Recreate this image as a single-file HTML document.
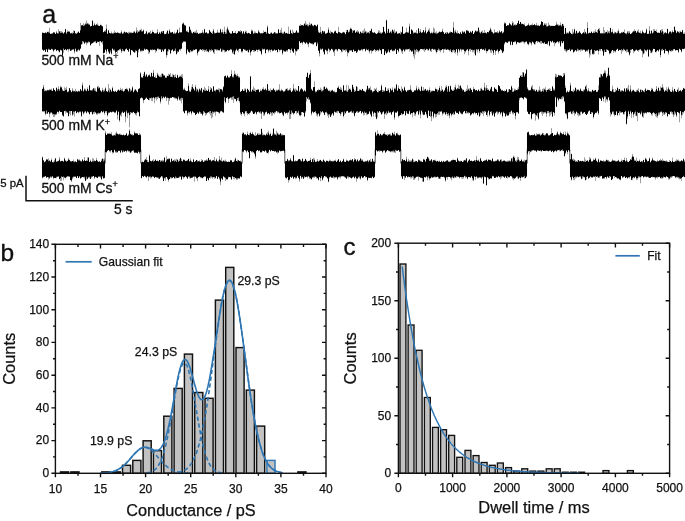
<!DOCTYPE html>
<html lang="en">
<head>
<meta charset="utf-8">
<title>Figure</title>
<style>
html,body{margin:0;padding:0;background:#fff;}
body{width:685px;height:521px;overflow:hidden;}
svg{display:block;}
</style>
</head>
<body>
<svg width="685" height="521" viewBox="0 0 685 521">
<rect width="685" height="521" fill="#fff"/>
<g id="traces">
<path d="M42.5 32.7V49.6M43.5 32.6V50.7M44.5 32.9V50.4M45.5 32.1V51.9M46.5 32.7V49.7M47.5 31.6V52.3M48.5 31.6V49.9M49.5 27.7V50M50.5 33.7V50M51.5 33.1V49.3M52.5 32.9V49.7M53.5 32.2V52.2M54.5 32.1V50.3M55.5 33.7V49.6M56.5 31.1V51.3M57.5 33.1V49.9M58.5 29.1V51.6M59.5 31.1V52.6M60.5 31.1V50.4M61.5 31.1V50.5M62.5 31.9V56.3M63.5 33.3V53.2M64.5 32.1V50.1M65.5 28.8V49.6M66.5 32.7V50.4M67.5 30.3V49.6M68.5 30.9V51.6M69.5 30.9V49.5M70.5 33.3V50.8M71.5 32.7V51.1M72.5 32.4V49.6M73.5 30.2V49.8M74.5 30.8V53.4M75.5 33.2V49.5M76.5 32.8V52.1M77.5 32.3V51.8M78.5 31.7V50.2M79.5 32.8V50.7M80.5 22.9V48.9M81.5 25.3V44.6M82.5 24.8V44.2M83.5 23.3V42.5M84.5 24.5V43.6M85.5 22.8V43.1M86.5 20.5V45.2M87.5 23.4V43.3M88.5 23.3V42.7M89.5 24.5V42.3M90.5 26.4V46M91.5 25.8V44M92.5 19.9V43.4M93.5 25.6V42.6M94.5 22.8V42.2M95.5 25V42.7M96.5 24.3V43.3M97.5 23.3V42.3M98.5 24.8V41.9M99.5 25.8V46.2M100.5 24.5V41.7M101.5 24.9V42.4M102.5 26V44.4M103.5 32.1V54.4M104.5 30.8V53M105.5 30V49.9M106.5 24.5V54.2M107.5 33.3V49.4M108.5 29.9V52.5M109.5 32.6V54.1M110.5 33.6V52.2M111.5 31.5V54.5M112.5 33.5V48.7M113.5 32.3V50.6M114.5 30.5V51M115.5 32.3V52.8M116.5 32.7V52M117.5 31.9V53.6M118.5 32.7V50.6M119.5 32.9V50.3M120.5 32.6V50M121.5 30.4V52.9M122.5 33V51.2M123.5 32.3V51.2M124.5 31.6V52M125.5 32.5V49.5M126.5 32.1V48.6M127.5 32.6V50.2M128.5 31.8V51.6M129.5 31.7V49M130.5 32.4V55.5M131.5 31.9V50.1M132.5 32.7V51.2M133.5 31.4V52M134.5 31.3V52.4M135.5 32.8V52.4M136.5 27.5V51.1M137.5 30V57.5M138.5 31.7V52.4M139.5 30V49.1M140.5 29.5V51.9M141.5 28.8V51.4M142.5 31.1V51.3M143.5 29.5V51.1M144.5 33.9V49.6M145.5 32.9V50M146.5 31V49.1M147.5 33.5V50M148.5 32.5V53.9M149.5 32V53.6M150.5 30.7V50M151.5 33.4V50.5M152.5 30.2V50.4M153.5 32V50M154.5 33.4V49.6M155.5 33V52.7M156.5 32.7V51.5M157.5 29.1V49.1M158.5 33.9V49.8M159.5 31.9V49.9M160.5 32.6V49.5M161.5 31.1V52.1M162.5 31.1V50.3M163.5 30.8V52.3M164.5 33.6V50.2M165.5 34V49.1M166.5 31.9V57.7M167.5 30.6V55.3M168.5 33.7V51.4M169.5 29.1V49.8M170.5 31.9V53.9M171.5 32.2V50.5M172.5 31.9V49.6M173.5 33.5V52.1M174.5 31.6V50.8M175.5 33.4V51.2M176.5 31.8V54.6M177.5 29.3V53M178.5 32.9V52.1M179.5 27.6V49.7M180.5 32.2V51.1M181.5 32V48.8M182.5 23.2V43.4M183.5 22.4V41.9M184.5 24.6V42M185.5 25.5V42.3M186.5 30.8V54.7M187.5 30.3V50.3M188.5 32.4V51.7M189.5 26.2V53.1M190.5 29.1V51.9M191.5 31.3V52.2M192.5 33.2V51.7M193.5 31.9V50.6M194.5 31.5V50.1M195.5 31.4V49.9M196.5 29.8V49.7M197.5 32.3V55.5M198.5 33.8V51.6M199.5 33.1V51.2M200.5 32.7V49.7M201.5 32.8V50.1M202.5 30V51.2M203.5 32.3V50.5M204.5 29.1V52.1M205.5 32.4V51.3M206.5 32.1V51.8M207.5 33V51.7M208.5 33.6V52.6M209.5 29.9V50.9M210.5 31.4V51.7M211.5 32.7V51.1M212.5 31.4V50.7M213.5 28.8V53.3M214.5 32.2V53.9M215.5 33.2V50.1M216.5 32.5V50.7M217.5 29.8V50.5M218.5 32.7V50.5M219.5 32.7V50.8M220.5 28.9V48.8M221.5 31.9V52.1M222.5 29.5V51.7M223.5 32.3V50.4M224.5 26.7V52.4M225.5 32V51.7M226.5 29.5V51.3M227.5 26.5V50M228.5 29.7V51M229.5 32.1V50.5M230.5 33.1V50.2M231.5 33.5V49.6M232.5 31.2V53.6M233.5 33.1V54M234.5 32.7V54.8M235.5 30.9V51.7M236.5 33.3V49.9M237.5 32.6V50.8M238.5 31.1V52.2M239.5 31.3V49M240.5 30V48.9M241.5 31.1V52.3M242.5 33.5V52.6M243.5 31.3V49.2M244.5 33.1V50.1M245.5 30.6V51.1M246.5 31V50.7M247.5 32.9V51.5M248.5 32.6V52.9M249.5 33.2V50.3M250.5 34V55.5M251.5 29.5V52M252.5 29.9V50.1M253.5 33.4V51.9M254.5 31.3V52M255.5 31.7V51.3M256.5 33V50M257.5 33.1V52.1M258.5 29.8V49.6M259.5 31.7V50.8M260.5 33.5V51.5M261.5 33.1V55.1M262.5 32.9V49.9M263.5 30.4V49.5M264.5 31.9V49.5M265.5 31.4V53.6M266.5 32.4V50M267.5 25.4V50.1M268.5 33.5V52.5M269.5 34V50.7M270.5 32.6V52.4M271.5 32.5V49.6M272.5 33.4V51.5M273.5 32.9V50.8M274.5 32.2V49.9M275.5 32.2V50.7M276.5 33.4V50M277.5 33.4V52.5M278.5 29.2V49.8M279.5 32.8V51.8M280.5 29.9V50.5M281.5 27.8V49.8M282.5 32.5V54.6M283.5 32.6V51.4M284.5 31.7V51.6M285.5 32.9V51.9M286.5 32.7V51.3M287.5 33.6V51.8M288.5 26.7V49.2M289.5 33.9V49.3M290.5 29.5V52.9M291.5 33V49.7M292.5 29.6V51.9M293.5 31.5V53M294.5 32.8V49M295.5 31.9V55.4M296.5 30.2V51.3M297.5 31.9V50.8M298.5 32.8V49.7M299.5 25.2V41.6M300.5 24.1V43.3M301.5 25.3V42.9M302.5 24.9V44.7M303.5 24.8V42.1M304.5 23.7V43M305.5 21.1V43.9M306.5 23.5V42.6M307.5 24V44.5M308.5 24.8V47.2M309.5 22.4V42.4M310.5 23.7V43.8M311.5 23.4V43.7M312.5 25V44.6M313.5 25.5V44.4M314.5 24.6V42.4M315.5 25.1V42.8M316.5 26V46.4M317.5 24.1V44.3M318.5 30.4V50.8M319.5 32.4V56.4M320.5 26.9V49.9M321.5 32.3V49.6M322.5 30.6V49M323.5 30.9V52.4M324.5 31.3V54.6M325.5 33.3V50.1M326.5 33.1V51.4M327.5 32.3V54.2M328.5 27.6V49.4M329.5 32.4V52.3M330.5 30.7V50.9M331.5 31.7V48.9M332.5 32.5V49.9M333.5 33.2V52.5M334.5 31.3V56M335.5 30.4V50.1M336.5 32.8V50.3M337.5 33.3V51.6M338.5 26.9V49M339.5 32V49.6M340.5 32.4V50M341.5 33.1V52.2M342.5 32.1V52.3M343.5 31.8V50.7M344.5 32.2V50.4M345.5 34.2V51.8M346.5 30V51.1M347.5 29.7V56.5M348.5 31.7V53.3M349.5 29.6V51.6M350.5 27.5V50.6M351.5 28.4V51.1M352.5 30V52M353.5 30.6V49.8M354.5 29.9V51.4M355.5 32.4V51M356.5 31.4V52.7M357.5 30.1V52.2M358.5 30.8V49.9M359.5 33.2V51M360.5 31.1V50.6M361.5 32.5V50M362.5 30.7V51.2M363.5 30.3V49.6M364.5 28.3V48.8M365.5 30.8V51.8M366.5 31.4V49.9M367.5 31.8V50.2M368.5 32.4V51.3M369.5 30.7V53.5M370.5 30.7V50.5M371.5 28.4V53.6M372.5 32V51.3M373.5 32.5V50.9M374.5 31.9V50.1M375.5 33.1V52M376.5 33.7V50.5M377.5 32.7V50.4M378.5 30.4V51.6M379.5 30.6V50.1M380.5 31.8V50.8M381.5 32.6V54.2M382.5 32V49.4M383.5 26.7V49.2M384.5 31.5V55.1M385.5 33V52.3M386.5 19.7V54M387.5 31.4V52.9M388.5 28.7V51.3M389.5 32.7V52.4M390.5 30.7V50.4M391.5 31.4V50.2M392.5 29.3V51.4M393.5 30.4V51.6M394.5 29.3V50.6M395.5 31.6V49.3M396.5 31.3V54.1M397.5 33.3V49.8M398.5 33.3V52.4M399.5 32.9V48.7M400.5 31.4V49.8M401.5 32.3V52.6M402.5 26.4V54M403.5 33.4V49.8M404.5 33.6V52M405.5 32.5V50.6M406.5 27.7V49.4M407.5 32.4V49.6M408.5 31.6V49.3M409.5 23.5V51.8M410.5 34V50.4M411.5 29.4V51.4M412.5 30.2V51.8M413.5 32.4V56.5M414.5 32.7V58.8M415.5 32V54.5M416.5 30V51.8M417.5 33.1V51.7M418.5 28.2V52.6M419.5 31.2V51.2M420.5 29V49.4M421.5 32.4V49.2M422.5 31.8V49.4M423.5 30V50.5M424.5 32.4V52M425.5 27.1V50.4M426.5 33.2V49.3M427.5 31.5V50.5M428.5 29.6V50.4M429.5 28.2V49M430.5 33.2V51.5M431.5 31.7V52M432.5 32.5V48.8M433.5 27.4V49.8M434.5 28.7V49.5M435.5 32.1V51.4M436.5 31.2V53.4M437.5 33.1V51.9M438.5 32.4V50.2M439.5 31.7V51.1M440.5 31.8V52.4M441.5 31.8V50.3M442.5 28.7V49.4M443.5 32.2V52.9M444.5 33.9V49.3M445.5 32.2V50M446.5 31.9V49.9M447.5 32.6V49.4M448.5 33V50.1M449.5 32.4V51.5M450.5 31.3V51M451.5 32V52.4M452.5 32.8V52.6M453.5 22V51.3M454.5 30.7V52.9M455.5 29.8V53.6M456.5 32.4V49.5M457.5 30.5V55.5M458.5 33.1V49.6M459.5 33.7V52.3M460.5 31.8V49.8M461.5 33.7V51.7M462.5 31.2V49.9M463.5 31.8V49.5M464.5 31V54.2M465.5 33.1V52.5M466.5 30.2V50.7M467.5 29.9V49.2M468.5 30.7V55.3M469.5 32.8V50.3M470.5 31.1V51.7M471.5 32.3V50M472.5 30.6V52.3M473.5 34V51.8M474.5 32.5V53.6M475.5 30.7V55.4M476.5 31.6V50.5M477.5 30.8V52.4M478.5 27.7V50M479.5 30.5V52.8M480.5 32.4V49.3M481.5 31.1V48.8M482.5 30.5V50M483.5 32.5V49.4M484.5 30V50.8M485.5 32.5V50.4M486.5 33.5V53.2M487.5 31.9V51.5M488.5 31.9V50.3M489.5 29.9V49.3M490.5 27.5V52.6M491.5 29.8V53.1M492.5 31.8V51M493.5 33.2V55M494.5 29.4V49.9M495.5 32.2V55M496.5 32.1V50.9M497.5 31V50.5M498.5 32.2V53.7M499.5 30V51M500.5 32V50.2M501.5 31.2V50.6M502.5 32.6V52.9M503.5 31.5V52.3M504.5 22.2V44.6M505.5 22.8V42.3M506.5 25.8V42.7M507.5 25V43.1M508.5 25V41.6M509.5 22.8V42.1M510.5 24.3V45.3M511.5 24.9V41.6M512.5 21.2V45.3M513.5 22.4V42.1M514.5 24.4V42.4M515.5 24.2V41.7M516.5 24.8V44.6M517.5 23.1V42.3M518.5 20.2V42.6M519.5 23.9V42.7M520.5 21.9V42.7M521.5 23.5V42.7M522.5 23.6V41.6M523.5 24.1V42.6M524.5 23.4V43.9M525.5 25.9V42.4M526.5 25.7V41.9M527.5 24.9V44.3M528.5 23.1V45.4M529.5 24.8V43.3M530.5 24.9V43.4M531.5 24.5V45.4M532.5 23.4V41.9M533.5 25.1V43.3M534.5 24.1V44.8M535.5 25V44.3M536.5 22.9V41.2M537.5 24.9V43.1M538.5 25.4V41.6M539.5 25.9V42.4M540.5 24.5V43.6M541.5 21.3V43.8M542.5 22V42.8M543.5 25.1V44.1M544.5 23V43.4M545.5 23.5V44M546.5 23.4V44M547.5 26.1V45M548.5 22.5V41.3M549.5 24.7V46.4M550.5 25.7V41.1M551.5 25.5V42.7M552.5 25.8V41.2M553.5 25.7V42.6M554.5 25.8V46.1M555.5 25.4V43.8M556.5 21.9V42.9M557.5 24.3V41.7M558.5 24.3V43.7M559.5 25.3V42.7M560.5 22.5V47M561.5 25.3V42.5M562.5 23.7V43.4M563.5 24.3V41.3M564.5 33.7V50.8M565.5 27.9V51.4M566.5 32.5V52.6M567.5 32.3V51.1M568.5 32.6V50.1M569.5 31V49.9M570.5 32.5V51.4M571.5 33.7V49.6M572.5 29.2V49.4M573.5 31.8V53.2M574.5 28.6V52M575.5 32.7V50.3M576.5 30.5V52.1M577.5 32.6V50.9M578.5 32.2V51.4M579.5 31.1V50.4M580.5 32.5V51.6M581.5 34V50.3M582.5 33.1V51M583.5 32V49.6M584.5 29V50.2M585.5 31.7V51.8M586.5 33.1V51.2M587.5 22.1V51.9M588.5 33V50.4M589.5 32.3V57.7M590.5 32.9V55.3M591.5 31.7V50.1M592.5 33.1V54.6M593.5 31.5V54.8M594.5 31.2V54M595.5 29.4V51.1M596.5 31.9V50.7M597.5 30V50.7M598.5 28.8V54.5M599.5 28V50.8M600.5 33V51.2M601.5 32.8V49.1M602.5 33.1V51.6M603.5 27.1V55.7M604.5 30V52.2M605.5 31.9V52.1M606.5 31.8V52M607.5 30.1V49.8M608.5 31.1V50.5M609.5 30.8V54.5M610.5 27.8V53.2M611.5 31.8V52.4M612.5 29.3V50M613.5 33V52.9M614.5 31.6V51.6M615.5 32V52.5M616.5 32.6V49.8M617.5 31.1V48.8M618.5 29.3V51M619.5 33V50.2M620.5 33.1V50.5M621.5 32V53.9M622.5 31.9V51.5M623.5 31.8V50.5M624.5 29.4V50.3M625.5 33V51.2M626.5 32.9V52.4M627.5 30.9V52M628.5 31.1V52.6M629.5 31.1V55.6M630.5 34.1V52.9M631.5 33.5V49.9M632.5 31.6V49.2M633.5 30.8V53.1M634.5 29.1V51.6M635.5 30.8V50.4M636.5 32.4V49.7M637.5 30.5V50.8M638.5 29.4V51.8M639.5 32.3V50.1M640.5 30.8V49.7M641.5 33.5V50.8M642.5 30.1V57.3M643.5 32.1V54.3M644.5 33V53.2M645.5 32.1V51M646.5 28.5V51.9M647.5 33.7V49.5M648.5 33.4V56.4M649.5 26.1V50.1M650.5 32.9V53.1M651.5 30.7V53.2M652.5 32.8V52.3M653.5 29.1V48.9M654.5 29V49.1M655.5 30.8V52.3M656.5 29.6V52.4M657.5 32.4V50.5M658.5 32V51.9M659.5 32.8V49.3M660.5 30.1V57.5M661.5 29.3V51.1M662.5 29.1V50.8M663.5 31.6V50.1M664.5 32.5V54.1M665.5 32.4V51M666.5 33.2V51M667.5 28.7V51.3M668.5 33.3V54.6M669.5 31.5V50.5M670.5 31V51.5M671.5 32.1V51.8M672.5 30.2V51.3M673.5 32.1V50.3M674.5 26.1V49.4M675.5 30.4V51M676.5 32.5V50.2M677.5 31.2V50.3M678.5 31.5V52.9M679.5 31.3V49.2M680.5 30.7V50M681.5 32V52.3M682.5 30.1V49.3M683.5 32.8V49.3M684.5 32.4V48.6M685.5 33.2V52.1" stroke="#000" stroke-opacity=".38" stroke-width="1" fill="none"/><path d="M42.5 32.7V49.6M43.5 33V50.6M44.5 33.2V49.7M45.5 32.7V51.7M46.5 33.3V49.1M47.5 32.1V52.1M48.5 32.6V48.8M49.5 32.8V49.3M50.5 33.9V49.9M51.5 34.1V48.8M52.5 33.8V49.2M53.5 32.6V50.7M54.5 32.8V49.5M55.5 34V49.1M56.5 32.6V50.7M57.5 33.5V49.9M58.5 33.5V50.5M59.5 31.5V52M60.5 32.9V49.8M61.5 32.7V50.2M62.5 32.7V55.3M63.5 33.8V48.4M64.5 32.6V50M65.5 29.2V49M66.5 33.8V50.3M67.5 32V49M68.5 31.8V49.3M69.5 31.9V48.7M70.5 33.4V50.7M71.5 33.2V49.8M72.5 33.8V49.5M73.5 33V48.9M74.5 31V51.5M75.5 33.5V48.5M76.5 34.1V51.3M77.5 32.9V50.2M78.5 31.8V49.2M79.5 33.1V50.3M80.5 30.3V48.6M81.5 25.5V44.3M82.5 25.3V41.1M83.5 26.1V41.6M84.5 25.6V43.4M85.5 24.3V41.8M86.5 24.3V42.4M87.5 23.6V42.4M88.5 24.4V41.5M89.5 24.7V41.7M90.5 26.6V45M91.5 26V43.4M92.5 21V42.9M93.5 25.8V42.2M94.5 24.5V41.4M95.5 25.4V41.1M96.5 24.5V42.9M97.5 25.2V41.6M98.5 26.1V41.9M99.5 26V41.2M100.5 24.9V41M101.5 25.7V42.3M102.5 26.5V41.3M103.5 32.3V53.1M104.5 31.6V52.4M105.5 31.7V49.5M106.5 28.7V51.4M107.5 34V49M108.5 30.5V51.4M109.5 33V53.4M110.5 33.6V50.6M111.5 33.3V53.6M112.5 33.5V48.4M113.5 33.8V49.7M114.5 32.9V49.5M115.5 32.7V52.5M116.5 33.1V51.8M117.5 32.7V50.5M118.5 33.1V49.9M119.5 33.5V49M120.5 33.4V48.7M121.5 32.3V51.2M122.5 33.9V49.1M123.5 33.4V50.5M124.5 31.7V51M125.5 32.7V49.3M126.5 32.2V48.6M127.5 32.9V50M128.5 33.8V51.6M129.5 33.3V48.7M130.5 32.8V54.7M131.5 33.3V49.9M132.5 33.1V50.3M133.5 32.7V51.8M134.5 31.8V52.4M135.5 33.3V50.2M136.5 31.4V50.8M137.5 32.9V57.1M138.5 31.7V49.8M139.5 31.4V48.8M140.5 30.3V50.7M141.5 31.5V50.4M142.5 31.5V50.5M143.5 30.4V50.6M144.5 34V48.5M145.5 33.7V49.6M146.5 31.6V49M147.5 34.2V49.5M148.5 32.7V50.5M149.5 32.7V52.1M150.5 33.9V49.6M151.5 33.6V49.7M152.5 32.1V49.3M153.5 32.2V49.7M154.5 33.4V49.6M155.5 33.6V50M156.5 33.5V50.7M157.5 32.3V48.6M158.5 33.9V48.6M159.5 32.8V49.1M160.5 33.9V49.2M161.5 31.7V52M162.5 32.7V49.5M163.5 31V51.1M164.5 34.2V48.9M165.5 34.1V48.7M166.5 33.4V54.9M167.5 30.7V51.2M168.5 33.8V48.9M169.5 31.1V49.6M170.5 32.7V53.2M171.5 32.7V50.3M172.5 32V49.3M173.5 33.7V51.1M174.5 33.4V50.4M175.5 33.8V48.4M176.5 32.8V54.1M177.5 29.9V51.3M178.5 33.2V51.5M179.5 32.3V49.3M180.5 32.4V49.1M181.5 32.6V48.5M182.5 24.2V42.4M183.5 23.4V41.6M184.5 25.2V41.2M185.5 25.7V41.5M186.5 31.4V53.6M187.5 31.9V49.2M188.5 32.5V51.4M189.5 27V52.2M190.5 30.3V49.9M191.5 32.8V50.9M192.5 33.4V50.8M193.5 32.1V49.5M194.5 33.1V50M195.5 32.8V49M196.5 33.2V49M197.5 33V53.3M198.5 34V51.6M199.5 33.5V49.8M200.5 33.5V48.9M201.5 33.1V50M202.5 32.5V48.9M203.5 33.6V49.6M204.5 29.2V49.8M205.5 33V50M206.5 32.4V49.2M207.5 33.7V50.9M208.5 33.6V51.8M209.5 30.3V49.4M210.5 32V50.1M211.5 33V49.3M212.5 33.9V50.1M213.5 30.4V51.9M214.5 33.6V49.3M215.5 33.3V49.1M216.5 33V49.6M217.5 32.4V49.5M218.5 32.8V50.1M219.5 32.8V49.9M220.5 29.5V48.5M221.5 32.7V51.5M222.5 32.3V49.4M223.5 33.9V49.7M224.5 31.8V50M225.5 34V51.6M226.5 33.4V51.2M227.5 28.6V49.9M228.5 30.5V50.4M229.5 32.8V50.1M230.5 33.7V49.1M231.5 33.7V49.6M232.5 31.2V52.2M233.5 33.2V50.5M234.5 32.9V54.3M235.5 33.1V50.6M236.5 33.9V48.7M237.5 33V50.4M238.5 31.3V49.6M239.5 31.5V48.7M240.5 32.3V48.7M241.5 31.3V51.6M242.5 33.8V51.1M243.5 31.6V49M244.5 34.1V49.5M245.5 32V49.7M246.5 33.1V50.7M247.5 33.7V50.1M248.5 32.9V52.1M249.5 33.4V49.4M250.5 34V52.5M251.5 31.3V50.9M252.5 31.2V50.1M253.5 33.7V49.9M254.5 33.2V50.5M255.5 33.3V51M256.5 33.1V49.5M257.5 33.8V50.1M258.5 31.5V49.6M259.5 32.7V49.4M260.5 33.6V51.1M261.5 33.3V53.8M262.5 33.5V48.6M263.5 33V49.3M264.5 32V48.8M265.5 32V52.9M266.5 33.7V49.4M267.5 27.2V49.1M268.5 33.6V50.6M269.5 34V49.4M270.5 33.7V50.1M271.5 32.8V49.6M272.5 34V50.6M273.5 33.5V50.6M274.5 32.3V49.5M275.5 33.4V50.3M276.5 33.5V50M277.5 33.6V52M278.5 29.6V49.1M279.5 33.1V50.1M280.5 32.8V49.8M281.5 32.7V49.6M282.5 33.7V53.3M283.5 33.7V50.2M284.5 31.7V51.3M285.5 33.6V51.4M286.5 33.1V50.2M287.5 33.7V50.2M288.5 33.7V49.1M289.5 33.9V49.2M290.5 30.6V49.9M291.5 33.2V48.6M292.5 34.1V51.1M293.5 32.8V52.6M294.5 32.9V48.8M295.5 32.8V50.4M296.5 30.8V51.2M297.5 32.9V49.3M298.5 32.8V49.1M299.5 25.9V41.1M300.5 26.1V43M301.5 25.3V42.2M302.5 25.3V42.7M303.5 26V41.5M304.5 23.7V42.3M305.5 25.2V43.6M306.5 25.1V42.3M307.5 25.8V43.2M308.5 26.6V43.9M309.5 25V42.4M310.5 25.6V42.9M311.5 23.9V43.6M312.5 25.7V43.5M313.5 26.2V44.2M314.5 25V42.4M315.5 25.6V42M316.5 26.4V46M317.5 24.9V42.4M318.5 32.3V50.6M319.5 33V53.2M320.5 32.2V48.4M321.5 33.9V49.5M322.5 31V48.4M323.5 32.5V51.6M324.5 31.4V54.3M325.5 33.9V49.6M326.5 33.4V50.5M327.5 33.1V50.8M328.5 29.8V48.5M329.5 32.9V49.5M330.5 33.8V50.3M331.5 32.2V48.7M332.5 32.6V49.3M333.5 33.5V51.5M334.5 31.8V50.5M335.5 31.2V48.9M336.5 33.1V49M337.5 33.7V50.4M338.5 32V48.7M339.5 32.4V49.1M340.5 33.1V49.7M341.5 33.6V51.2M342.5 33.1V49.3M343.5 32.3V49.5M344.5 32.8V50M345.5 34.3V49.4M346.5 32V49.6M347.5 29.9V52.2M348.5 32.4V52.5M349.5 31.7V50.3M350.5 28.8V50.2M351.5 29.3V50.1M352.5 32.8V51.9M353.5 30.7V49.5M354.5 30.4V51.3M355.5 33V51M356.5 31.7V52.7M357.5 32.6V51.2M358.5 32.3V49.5M359.5 34V50.3M360.5 32.1V50.3M361.5 33.2V49.1M362.5 33V49.4M363.5 33.6V48.9M364.5 32.5V48.7M365.5 31.8V50.7M366.5 33.6V48.8M367.5 33.1V50M368.5 32.5V49.2M369.5 33.4V51.3M370.5 30.9V50.3M371.5 29.2V50.4M372.5 32.5V51M373.5 32.9V50M374.5 32.6V48.9M375.5 33.5V49.9M376.5 33.9V50.4M377.5 33.5V49.8M378.5 32.5V50.2M379.5 33.1V48.8M380.5 33.6V50.1M381.5 33.7V53.7M382.5 32.8V49M383.5 26.9V49.1M384.5 31.8V55M385.5 33.7V50.8M386.5 20.4V52.9M387.5 32.9V51.7M388.5 29.1V49.4M389.5 33.1V52.2M390.5 32.1V50.1M391.5 33.3V49.2M392.5 29.9V50.7M393.5 31.8V50.3M394.5 33.4V50.5M395.5 33V48.8M396.5 31.8V53.9M397.5 34V49.7M398.5 33.5V51.2M399.5 33.3V48.6M400.5 34.2V48.8M401.5 32.4V50.6M402.5 26.7V51M403.5 34.1V49.2M404.5 33.8V50.8M405.5 32.7V49.2M406.5 32.3V49.3M407.5 32.4V49.2M408.5 33.1V48.9M409.5 26.6V48.7M410.5 34V49.9M411.5 29.6V51.4M412.5 30.7V50.7M413.5 33.4V54.1M414.5 32.8V49.6M415.5 33.1V50.3M416.5 33.2V49.1M417.5 33.7V49.9M418.5 28.5V51.2M419.5 33V50.2M420.5 31.8V49.1M421.5 33V49M422.5 32.4V49.3M423.5 30.2V48.9M424.5 32.6V48.8M425.5 30.4V50M426.5 33.4V48.8M427.5 31.9V49.1M428.5 30.6V50.3M429.5 31.7V48.5M430.5 33.4V50.6M431.5 33.1V48.9M432.5 33.4V48.7M433.5 32.4V49.5M434.5 33V49.3M435.5 33.5V49.5M436.5 33.8V51.9M437.5 33.4V49.9M438.5 32.8V48.6M439.5 31.8V49.4M440.5 32.3V50.3M441.5 31.9V50.1M442.5 30.9V48.9M443.5 32.3V49.3M444.5 33.9V49.2M445.5 33V48.8M446.5 33.9V49.7M447.5 32.6V49.2M448.5 34V49.6M449.5 32.8V49.9M450.5 32.6V49.2M451.5 32V52M452.5 32.8V50M453.5 27.7V49.6M454.5 33.2V49.9M455.5 31.7V51.8M456.5 33.2V48.9M457.5 33.6V52.5M458.5 33.2V48.9M459.5 33.9V50.5M460.5 32.6V48.8M461.5 34.1V49.6M462.5 31.6V49.2M463.5 32.8V49.4M464.5 31.9V51.1M465.5 33.8V51.3M466.5 30.5V49.8M467.5 31V49.2M468.5 31.4V51M469.5 32.9V48.9M470.5 31.7V48.7M471.5 32.8V49.7M472.5 30.9V49.7M473.5 34V50M474.5 32.6V49.8M475.5 30.7V55.2M476.5 31.6V49.1M477.5 31.5V49.4M478.5 27.8V49.1M479.5 32.6V51.1M480.5 33.6V49.1M481.5 32V48.8M482.5 33.2V49.6M483.5 33V49.2M484.5 32.9V50.2M485.5 32.8V48.5M486.5 33.6V50.9M487.5 31.9V51M488.5 32.5V49.4M489.5 31.1V49.2M490.5 29.2V50.3M491.5 31.7V49.5M492.5 32.6V50.3M493.5 33.8V52.7M494.5 32.8V49.9M495.5 32.5V51.3M496.5 32.4V50.5M497.5 32.7V49.2M498.5 33.3V51.7M499.5 31.5V50.8M500.5 32.6V49M501.5 31.2V50.2M502.5 33.4V52.8M503.5 32.4V51.1M504.5 23.4V43.2M505.5 23.4V41.8M506.5 26.1V42.2M507.5 25.3V42.8M508.5 25.5V41.5M509.5 23.4V41M510.5 24.6V44.8M511.5 25.8V41.6M512.5 23.3V44.8M513.5 25.7V42M514.5 25.1V41.4M515.5 25.6V41.3M516.5 24.9V43.7M517.5 23.3V41.9M518.5 20.9V42.2M519.5 24V42.7M520.5 22V42.2M521.5 24.3V41.6M522.5 24.1V41.6M523.5 24.6V41.6M524.5 25.2V42.2M525.5 26.6V41.7M526.5 26.1V41.3M527.5 25.4V43.6M528.5 24.7V44.2M529.5 26V42M530.5 25.2V42.2M531.5 25.3V43.6M532.5 25.3V41.6M533.5 25.1V42.6M534.5 24.4V44M535.5 25.5V42M536.5 25.3V40.9M537.5 26V41.2M538.5 25.6V41.5M539.5 25.9V42.2M540.5 24.7V41M541.5 21.6V41.1M542.5 22.1V42.7M543.5 25.8V43M544.5 24.6V42M545.5 25.1V43.9M546.5 26.5V43.8M547.5 26.6V43.6M548.5 25.8V41.2M549.5 25.4V45.4M550.5 26.3V41.1M551.5 26.1V41.9M552.5 26V40.8M553.5 26.1V42.6M554.5 26.1V42M555.5 25.5V43M556.5 24.4V41.9M557.5 24.9V41.2M558.5 26V42.1M559.5 25.4V41.1M560.5 25.2V45.8M561.5 26.5V41M562.5 23.9V43M563.5 25.9V41.3M564.5 33.9V49.1M565.5 28.1V49.2M566.5 33.7V50.8M567.5 33.2V49.8M568.5 33.5V49.9M569.5 31.5V48.7M570.5 33.1V50.9M571.5 34V49.5M572.5 34.2V49.4M573.5 33.4V52M574.5 29.5V51.1M575.5 33.7V49.9M576.5 31V50.8M577.5 33.6V48.8M578.5 33V49.6M579.5 31.6V50M580.5 33V49.4M581.5 34.2V49.2M582.5 33.4V49.7M583.5 32.5V49.5M584.5 33.4V49.7M585.5 32.3V51.5M586.5 33.9V50.5M587.5 27.9V50.2M588.5 33.8V49.3M589.5 33V53.5M590.5 33V49.9M591.5 31.7V48.9M592.5 33.2V53.8M593.5 32.8V53.6M594.5 32.9V49.9M595.5 32.3V50.7M596.5 32.3V50.4M597.5 32.9V50.1M598.5 29.3V51M599.5 30.7V49.2M600.5 33.5V49.2M601.5 33.4V49M602.5 33.4V50.4M603.5 33.5V55.6M604.5 33.5V49.8M605.5 32.8V52.1M606.5 31.9V49.3M607.5 33.5V49.7M608.5 32.4V50.5M609.5 33.3V53.2M610.5 28V53.2M611.5 32.6V50.8M612.5 31.9V50M613.5 33.7V50.8M614.5 33.6V50.8M615.5 32.6V51.3M616.5 33.5V49.8M617.5 32.9V48.7M618.5 31.2V50.8M619.5 33.5V49.7M620.5 33.6V49.9M621.5 32.7V49.2M622.5 33.1V50.1M623.5 32.1V48.8M624.5 33V49.6M625.5 33.7V50.8M626.5 34.2V49.6M627.5 32.5V49.5M628.5 33.5V51.8M629.5 32.8V54.6M630.5 34.1V49.7M631.5 33.5V49.6M632.5 32.5V49M633.5 31.5V50.3M634.5 31.4V51.3M635.5 31.1V50.3M636.5 32.9V49.4M637.5 31.6V50.6M638.5 32.5V49.9M639.5 33.1V49.5M640.5 33.3V48.9M641.5 33.6V50.4M642.5 31.5V51.3M643.5 32.8V53.6M644.5 33.4V49.2M645.5 33V50M646.5 29.8V50.5M647.5 33.9V49.4M648.5 33.9V56.4M649.5 30.7V49.6M650.5 34V50.4M651.5 30.8V52.6M652.5 33.4V50.6M653.5 32.4V48.7M654.5 31V49.1M655.5 31V51.9M656.5 31.9V50.9M657.5 32.9V50.1M658.5 33.1V50.7M659.5 33.1V49.2M660.5 30.5V55.1M661.5 32.5V49.6M662.5 31.2V48.7M663.5 34.3V49.9M664.5 33.2V53M665.5 32.5V49M666.5 33.2V50.7M667.5 29.1V50.9M668.5 33.8V52.4M669.5 32.2V50.3M670.5 31.7V51.1M671.5 33.6V50.3M672.5 31.7V50.5M673.5 32.3V49.1M674.5 26.9V48.9M675.5 30.6V50.2M676.5 32.9V49.9M677.5 31.5V50.1M678.5 32.3V51.8M679.5 33.3V48.8M680.5 32V49.8M681.5 32.2V51.6M682.5 30.3V48.8M683.5 33.9V49M684.5 33.9V48.5M685.5 33.5V50.7" stroke="#000" stroke-width="1.05" fill="none"/>
<path d="M42.5 88.7V111.4M43.5 84.8V112M44.5 88.8V112.4M45.5 90.5V115.2M46.5 90.1V113.9M47.5 89.8V113.6M48.5 89.9V112.2M49.5 88.9V117.2M50.5 89.1V113.6M51.5 88.7V113.1M52.5 90.7V115M53.5 88.3V117M54.5 89.9V117.1M55.5 91.5V115.2M56.5 87.1V114.9M57.5 88.8V112M58.5 86.4V113.7M59.5 89.2V111.1M60.5 85.8V112.1M61.5 86.7V112.1M62.5 88.9V116.1M63.5 90.8V116.9M64.5 87.3V111.3M65.5 88.2V113.6M66.5 86.9V112.7M67.5 91.5V112.7M68.5 91V116.5M69.5 88V113.9M70.5 90V115.5M71.5 91.8V111M72.5 88.1V116M73.5 90.2V114.5M74.5 91.2V116.6M75.5 88.9V111.3M76.5 90.8V113.3M77.5 91.8V112.1M78.5 90.5V113.4M79.5 91.4V112.3M80.5 89.1V112.3M81.5 90.4V116.9M82.5 82.6V111.6M83.5 90.8V114.7M84.5 88.3V113.2M85.5 88.8V111.8M86.5 90.6V113.7M87.5 87.4V111.8M88.5 90.3V112.4M89.5 85.2V114.6M90.5 89.9V112.2M91.5 90.5V112.4M92.5 89V114.4M93.5 88V113.7M94.5 87.8V113.9M95.5 88.5V112.5M96.5 91.2V114.8M97.5 86V114.9M98.5 86V113.9M99.5 87.4V114.1M100.5 90.3V113.4M101.5 91.4V111.2M102.5 87.8V112.3M103.5 89.9V112M104.5 89.5V114.8M105.5 87.3V112.3M106.5 91.2V112.7M107.5 91.5V116.4M108.5 84.1V113.7M109.5 88.2V112.9M110.5 88.9V111.9M111.5 91.3V112.4M112.5 86.6V112.1M113.5 91.3V112M114.5 91V113.4M115.5 90.6V112.9M116.5 91.9V110.8M117.5 90V119.4M118.5 89.1V112M119.5 89.9V121.9M120.5 87.8V115.9M121.5 89.2V116.7M122.5 88.5V112.3M123.5 91.3V113.1M124.5 89.7V111.7M125.5 89V122.4M126.5 87.7V112.4M127.5 88.8V118.2M128.5 91.3V113.2M129.5 87.9V127.3M130.5 89.1V114.3M131.5 89.7V112.8M132.5 86.4V113.4M133.5 92.2V112M134.5 89.5V113.4M135.5 89.4V115M136.5 90.1V115.6M137.5 91.9V112.4M138.5 88.8V112.7M139.5 87.8V116.7M140.5 72.2V98.3M141.5 76.7V98M142.5 77V99M143.5 73.9V103.2M144.5 71.6V99.9M145.5 75.6V98.5M146.5 73.9V98M147.5 76.5V99.1M148.5 75.3V100M149.5 74.2V100.4M150.5 76.1V98.7M151.5 72.6V100.8M152.5 76.4V101.2M153.5 70V98.1M154.5 77.2V103.3M155.5 75.6V98.5M156.5 77.8V100.5M157.5 72.7V99M158.5 74.4V97.9M159.5 75.8V98.3M160.5 75.3V103.6M161.5 73.7V98.9M162.5 73V99.6M163.5 74.3V97.5M164.5 75.1V98.4M165.5 77.3V96.7M166.5 76.4V101.1M167.5 75.6V98.4M168.5 73.7V104.7M169.5 74.1V101M170.5 73.2V97.9M171.5 76.3V98.1M172.5 73.8V97.1M173.5 74.6V97.6M174.5 75.1V98.6M175.5 74.1V99.2M176.5 78V98.7M177.5 74.7V100.8M178.5 77.7V98.1M179.5 75.7V100.5M180.5 75.7V100.9M181.5 74.5V103.2M182.5 74.2V99.7M183.5 88.7V111.5M184.5 87.7V113.6M185.5 90.2V110.9M186.5 90.9V110.8M187.5 90.8V115.5M188.5 83.4V113.2M189.5 90.3V113.6M190.5 91.7V111.4M191.5 86.7V114.7M192.5 84.1V111.9M193.5 88V112.7M194.5 89.7V112.8M195.5 84.9V115.2M196.5 88.5V114.1M197.5 88.7V112.7M198.5 90.4V113.8M199.5 88.3V112.4M200.5 89.5V114M201.5 87.8V113.5M202.5 92.5V115.7M203.5 89.1V113.7M204.5 86.8V112.7M205.5 88.3V115.7M206.5 89.8V114.8M207.5 91V113.1M208.5 86V112.4M209.5 91.6V113.6M210.5 87V115.4M211.5 88V118.4M212.5 91.7V117.3M213.5 86.4V113.7M214.5 90.7V112.8M215.5 90V115.7M216.5 89.1V112M217.5 89.4V112M218.5 88.3V113.2M219.5 88.5V113.8M220.5 88.8V111.6M221.5 89.1V111.4M222.5 89.7V112.4M223.5 85.9V112.6M224.5 76.4V100.8M225.5 75.2V103.3M226.5 77.6V98.1M227.5 75.5V98.4M228.5 77.5V103M229.5 76.7V98.5M230.5 76V97.9M231.5 70.1V99.8M232.5 76.3V99.9M233.5 75.4V102.8M234.5 70.9V98.9M235.5 73.6V99.3M236.5 74.9V101.8M237.5 73.8V100.2M238.5 76V100.8M239.5 76.7V102.7M240.5 91.5V114.5M241.5 91V115.7M242.5 89.1V112.2M243.5 90.7V114.3M244.5 88.5V116.3M245.5 88.5V111.3M246.5 92.2V113.2M247.5 88.5V115.3M248.5 89.9V113.9M249.5 91.5V114.5M250.5 76.4V113M251.5 91V110.9M252.5 89.5V112.6M253.5 86.5V114M254.5 88.2V113.6M255.5 89.6V112.4M256.5 89.9V114.8M257.5 89.1V112M258.5 89V112.4M259.5 91.9V113.3M260.5 89.5V113.7M261.5 89.8V119M262.5 88.5V111.9M263.5 87.1V115.8M264.5 89.5V115.8M265.5 87.9V113M266.5 89.9V111.8M267.5 84.3V114.4M268.5 89.1V113.2M269.5 90.5V114.3M270.5 88.4V113.6M271.5 89.9V115.8M272.5 89.6V115.5M273.5 88.2V113.3M274.5 89.8V114.3M275.5 90.7V112.8M276.5 89.4V111.2M277.5 90.6V113.2M278.5 89.6V112.7M279.5 84.3V113.9M280.5 90.3V113.1M281.5 88.8V113.1M282.5 90.2V115.1M283.5 91.4V116.3M284.5 91.5V112.4M285.5 88.9V114M286.5 88.6V112.8M287.5 88.2V114.7M288.5 90.1V112.7M289.5 88.7V119.1M290.5 88V118.8M291.5 91.9V114.3M292.5 90.2V112.8M293.5 83.8V114.8M294.5 88.9V113.5M295.5 88.5V111.4M296.5 89.4V114.2M297.5 90.3V113M298.5 86V113.5M299.5 91.3V116M300.5 88.8V116.4M301.5 88.4V115M302.5 89.2V112.2M303.5 91V113.1M304.5 89.9V116.4M305.5 91.3V112.8M306.5 76.6V101.4M307.5 72.4V98.9M308.5 77.6V100.1M309.5 74.7V100M310.5 70V103.7M311.5 88.7V115.4M312.5 90.2V111.8M313.5 87V113.2M314.5 81.4V112.1M315.5 90.9V112.7M316.5 91.5V115.7M317.5 90V116.8M318.5 88.8V114M319.5 89.8V116.7M320.5 87.6V114.6M321.5 88.9V112.9M322.5 89.9V111.7M323.5 86.9V112.7M324.5 86.4V115.2M325.5 88.9V112.2M326.5 87.2V113.2M327.5 88.5V115.8M328.5 90.3V118.1M329.5 89.9V115.3M330.5 90.5V116.8M331.5 90.5V115.6M332.5 89.8V113.8M333.5 91.4V116M334.5 90.7V111.6M335.5 91.8V112.6M336.5 91.7V112.9M337.5 87.5V113.3M338.5 85.7V111.7M339.5 89V113.2M340.5 86.9V115.9M341.5 88.2V113.8M342.5 91.5V112.5M343.5 85.1V117.3M344.5 90.4V114.9M345.5 90.4V113.8M346.5 84.8V111.9M347.5 90.6V110.9M348.5 85.4V112.7M349.5 88.6V112.6M350.5 88.6V111.6M351.5 91.2V112.5M352.5 84.7V113M353.5 86.8V113.5M354.5 90.1V116.5M355.5 90.4V113.1M356.5 86.5V111.9M357.5 87.1V112.9M358.5 91V113M359.5 89.1V111.6M360.5 89.3V111M361.5 90V113.3M362.5 88.8V112M363.5 90.3V115.5M364.5 91V115.1M365.5 91.6V113M366.5 88.9V115.2M367.5 85.5V114.9M368.5 87.8V113.8M369.5 87.9V111.7M370.5 86.4V115.2M371.5 89.7V117.2M372.5 91.1V111.6M373.5 91.3V116.5M374.5 88.2V112.6M375.5 89.4V116.9M376.5 87.7V119.3M377.5 92.1V117.4M378.5 90.2V112.5M379.5 90.9V111.2M380.5 90.5V113.2M381.5 84.6V115M382.5 89.7V113.8M383.5 90.1V112.1M384.5 90.5V118.8M385.5 87.1V114.4M386.5 91.1V115.1M387.5 88.6V114.1M388.5 88.2V112.6M389.5 92.1V112.8M390.5 88.4V113.1M391.5 90.5V114.6M392.5 87.4V112.4M393.5 91.8V112.2M394.5 87.7V119.8M395.5 87.8V112.8M396.5 84V113M397.5 90.7V111.8M398.5 85.7V117.7M399.5 88.9V116M400.5 90.7V115.1M401.5 86.3V114.5M402.5 88.5V115.3M403.5 90.5V114.1M404.5 86.5V111.2M405.5 90.4V115.9M406.5 91.4V112.7M407.5 90.3V113.7M408.5 89.7V114.3M409.5 89.9V111.3M410.5 85.2V115M411.5 89.7V113.4M412.5 91.7V117.2M413.5 91.5V112.6M414.5 90.4V115.9M415.5 90.4V115.9M416.5 85.7V112.4M417.5 90V111.4M418.5 87.2V115.4M419.5 88.8V112.3M420.5 90.8V118.3M421.5 85.8V110.7M422.5 90.7V114.4M423.5 87.1V115.2M424.5 89.4V114.9M425.5 88.8V112M426.5 90.3V115.7M427.5 89.4V117.9M428.5 90.2V110.6M429.5 87.4V116.1M430.5 90.4V117.3M431.5 90.6V121.2M432.5 90.3V112M433.5 90.5V118.5M434.5 91.1V113.9M435.5 87.6V117.7M436.5 88.9V117.1M437.5 89.3V114.7M438.5 89.7V114.7M439.5 86V115M440.5 90V111.8M441.5 86.3V112M442.5 89.5V115.5M443.5 91.2V114M444.5 89.8V113.3M445.5 86.3V115.1M446.5 85.1V113.6M447.5 89.1V116.2M448.5 86.2V115.3M449.5 90.7V118.2M450.5 85.4V113.5M451.5 89.3V116.4M452.5 90.7V114.6M453.5 89.4V114.9M454.5 86.9V114.4M455.5 84.5V111.3M456.5 89.4V113M457.5 88V112.8M458.5 84.7V114.2M459.5 85.9V111.8M460.5 85.5V113.4M461.5 87.5V114.4M462.5 89V114.5M463.5 89.7V112.4M464.5 91.5V111.2M465.5 90.6V113.7M466.5 88.8V113.6M467.5 85.1V113.3M468.5 88.4V113.7M469.5 88.4V112.7M470.5 87.8V116M471.5 89.6V115.1M472.5 92.1V113.5M473.5 86.9V114.4M474.5 88.7V112.5M475.5 90.2V114.2M476.5 89.9V113M477.5 91V115.4M478.5 89.5V113.1M479.5 90.8V116.8M480.5 88.2V115.4M481.5 87.7V113.4M482.5 89.6V114M483.5 90.4V116M484.5 82.8V112.9M485.5 87.7V111.6M486.5 85.1V115.1M487.5 88V116.7M488.5 89.2V110.9M489.5 90.9V116.5M490.5 88.2V112.1M491.5 86.7V113.6M492.5 90.8V115.6M493.5 91.2V113.9M494.5 87.2V116.6M495.5 88.7V113.4M496.5 88.8V112.3M497.5 91.7V114.8M498.5 85.3V113.7M499.5 86V111.7M500.5 88.3V114.8M501.5 89.8V112.4M502.5 89.9V117.4M503.5 91V112.9M504.5 90.1V113.7M505.5 90.9V116.7M506.5 89.2V115.4M507.5 91.7V115.6M508.5 89.3V115.5M509.5 89.1V113.8M510.5 89.9V114M511.5 85.7V111.2M512.5 88.1V114.2M513.5 91.5V114.6M514.5 88.5V113M515.5 89V119.4M516.5 89.9V112.7M517.5 88.4V112.5M518.5 86.9V113.9M519.5 77.4V100.3M520.5 75.3V97.9M521.5 75V97.8M522.5 72V98.2M523.5 72.1V100M524.5 75.4V97.4M525.5 73V97.8M526.5 69.3V98.8M527.5 87V111.9M528.5 89.5V114.1M529.5 89.9V114.6M530.5 89.8V112M531.5 85.8V119.6M532.5 85.2V114.3M533.5 89V113.5M534.5 88.9V114.3M535.5 90.7V120.7M536.5 89.5V115.6M537.5 90.9V117M538.5 89.7V119.8M539.5 86.4V112.7M540.5 89.5V112M541.5 91.2V113.8M542.5 88.9V115.9M543.5 88.4V114M544.5 88.6V113.3M545.5 87.1V113.1M546.5 90.1V116.8M547.5 89.6V113.1M548.5 88.8V112.9M549.5 88.1V116.5M550.5 88.7V115.3M551.5 91.1V114M552.5 86.3V116.6M553.5 88.1V112.4M554.5 88.9V115.6M555.5 73.7V97.9M556.5 74.2V106.8M557.5 76.7V98.8M558.5 74.9V101.6M559.5 75.2V98.6M560.5 75.3V99.2M561.5 75.7V99.5M562.5 77.3V99.3M563.5 73V97.8M564.5 72.8V102.3M565.5 85.6V113.7M566.5 92.4V115.4M567.5 90.3V119.2M568.5 92V112.8M569.5 89.8V112.5M570.5 82.8V112.2M571.5 91V114.3M572.5 91.3V114.1M573.5 89.2V113.1M574.5 89.8V115.7M575.5 87.2V113.8M576.5 89.2V111.9M577.5 89.3V115.2M578.5 89.2V116.4M579.5 90.3V115.6M580.5 88.2V115.4M581.5 90.6V112.1M582.5 91.2V114.1M583.5 89.5V113.2M584.5 89V112.2M585.5 86.2V113.9M586.5 84.6V115M587.5 90.6V113.9M588.5 88V111.8M589.5 91.3V110.5M590.5 91.3V114M591.5 91.2V113.9M592.5 89.6V112.7M593.5 90.6V118.5M594.5 90V115.2M595.5 89.8V112.7M596.5 91.5V113.3M597.5 90.9V111.7M598.5 85.4V114.6M599.5 77.2V98.3M600.5 73.8V99.2M601.5 74.1V101.1M602.5 75.7V97.8M603.5 73V101.7M604.5 70.2V97.6M605.5 70.8V102.5M606.5 76.7V100.3M607.5 73.8V101.7M608.5 67.4V97.3M609.5 75.4V101.2M610.5 90.8V116.5M611.5 91V114.4M612.5 85.7V112.5M613.5 89V114.4M614.5 91.9V116.4M615.5 89.1V114.9M616.5 90.5V111.5M617.5 87.2V115.9M618.5 89.2V113M619.5 88.8V115.4M620.5 90.3V113.1M621.5 90.1V112.5M622.5 90.2V112.5M623.5 91.2V114.6M624.5 88.5V114.4M625.5 90.5V111.6M626.5 88V124.4M627.5 87.6V118.8M628.5 85.1V111.8M629.5 91.4V115.9M630.5 85.4V112M631.5 90.9V117.8M632.5 89.9V112.1M633.5 89.5V117.3M634.5 91.3V114.2M635.5 91.6V115.8M636.5 89.9V116.3M637.5 89.5V121.1M638.5 88.3V113M639.5 92.1V113M640.5 89.6V114.9M641.5 89.6V113.3M642.5 90.3V116.6M643.5 91.4V117.8M644.5 90V114.2M645.5 87.9V113M646.5 90.9V113.9M647.5 89.4V112.3M648.5 90V113M649.5 90.2V112.5M650.5 91.3V113.1M651.5 87.7V115.4M652.5 88.5V115.6M653.5 91.5V112.7M654.5 91.4V114.1M655.5 90.2V116.4M656.5 86.1V117.3M657.5 90.4V117.7M658.5 87.2V114.6M659.5 90.1V114.8M660.5 86.4V112.6M661.5 87.4V111.7M662.5 84.1V116M663.5 87.4V114.5M664.5 90.8V115.1M665.5 90V113.8M666.5 87.2V112.8M667.5 89.1V116.5M668.5 86.5V114.2M669.5 89.1V114.5M670.5 91V111.9M671.5 91.7V113.5M672.5 87.2V114.3M673.5 90.6V117.1M674.5 88.8V115.1M675.5 90.9V114M676.5 92V117M677.5 89.6V112M678.5 87.6V112.6M679.5 90.6V122.3M680.5 89.9V111.4M681.5 91V118.1M682.5 89.8V115.2M683.5 87.7V113.5M684.5 88.3V110.9M685.5 90.7V113.3" stroke="#000" stroke-opacity=".38" stroke-width="1" fill="none"/><path d="M42.5 88.9V111.2M43.5 87.2V111.1M44.5 91.2V111M45.5 90.8V113.8M46.5 91.2V110.5M47.5 90.2V113.4M48.5 90.5V111.9M49.5 90.3V113.7M50.5 90V112.6M51.5 90.5V112.2M52.5 91V113.4M53.5 88.4V114M54.5 90.1V114.3M55.5 91.6V114.2M56.5 88.1V113.6M57.5 90.8V111.6M58.5 89.2V112M59.5 90.8V110.8M60.5 87.4V111.9M61.5 87.4V112M62.5 90.6V114.8M63.5 90.9V116M64.5 91.1V111.1M65.5 89.9V110.8M66.5 89.8V111.4M67.5 92.3V112.6M68.5 91.7V116M69.5 88.2V111M70.5 90.4V110.9M71.5 92.3V111M72.5 90.7V114.6M73.5 91.6V111.5M74.5 91.2V111.8M75.5 91.7V111M76.5 91.2V113.1M77.5 91.8V111.8M78.5 91.3V112.2M79.5 91.6V111.4M80.5 89.3V111.5M81.5 91.1V115.7M82.5 85.3V111.6M83.5 91.5V113.3M84.5 89.5V111.7M85.5 90.4V111.1M86.5 91.3V112.7M87.5 88.9V111.2M88.5 91V112.3M89.5 85.4V114.1M90.5 90.4V111.9M91.5 90.5V111.4M92.5 90.5V114.2M93.5 88.4V112.1M94.5 90.4V111.4M95.5 91.2V112.2M96.5 91.9V113.4M97.5 87.3V113.2M98.5 88.4V112.8M99.5 87.8V113M100.5 90.8V112.2M101.5 91.9V111M102.5 90.3V112.2M103.5 91.7V110.7M104.5 91.3V112.9M105.5 88.5V111.1M106.5 91.3V111M107.5 91.9V115.2M108.5 90.6V112.5M109.5 92.2V112.5M110.5 89.9V111.8M111.5 91.7V112.3M112.5 88.3V111.4M113.5 91.3V111.6M114.5 91.9V112.2M115.5 91.3V112.3M116.5 92V110.4M117.5 90.9V114.7M118.5 90V111.4M119.5 91V120.2M120.5 90V114.4M121.5 90.5V112.7M122.5 90.8V111.6M123.5 91.7V113.1M124.5 91.1V111.7M125.5 89.1V116.4M126.5 89.3V110.4M127.5 89.8V113.3M128.5 91.6V112.4M129.5 88.5V115M130.5 91.6V112.1M131.5 90.7V112.6M132.5 87.4V112.4M133.5 92.3V111.8M134.5 90.7V113M135.5 89.5V113.5M136.5 91.2V113.1M137.5 92.3V111.2M138.5 89.3V111.9M139.5 88.6V116M140.5 73.5V98.2M141.5 77.5V97.2M142.5 77.9V98M143.5 76V100.2M144.5 72.3V99.7M145.5 76.7V98.5M146.5 74.7V97.4M147.5 77.1V98.9M148.5 75.5V99.9M149.5 75.2V98.1M150.5 76.9V98M151.5 72.9V97.4M152.5 76.6V97.9M153.5 72.7V97M154.5 77.2V98.3M155.5 77.7V97M156.5 78V97.2M157.5 74.6V96.8M158.5 76.1V96.6M159.5 76.9V98.1M160.5 77.2V101.4M161.5 77V96.3M162.5 74V97.9M163.5 75.5V96.5M164.5 75.8V97.8M165.5 77.8V96.5M166.5 77.9V97.8M167.5 76V97.4M168.5 76.3V98M169.5 74.9V98.4M170.5 77V97.7M171.5 76.9V97.8M172.5 77.2V97M173.5 75.3V97.2M174.5 77.6V97.5M175.5 77.1V97.8M176.5 78.1V98.3M177.5 75.2V99.6M178.5 77.8V96.6M179.5 77.1V99.6M180.5 76.5V98.4M181.5 77V97.8M182.5 78.2V98M183.5 90V111.2M184.5 89.5V113M185.5 90.6V110.5M186.5 91.3V110.5M187.5 90.9V113.2M188.5 86V111.4M189.5 91.6V111.9M190.5 91.8V111.3M191.5 89.4V113.2M192.5 87.1V111.1M193.5 88.9V112.2M194.5 90.7V112.8M195.5 87.1V115.1M196.5 91.4V114M197.5 89.8V112.2M198.5 92.3V113.5M199.5 89.3V111.6M200.5 90.8V112.2M201.5 88.3V113.4M202.5 92.6V114.7M203.5 90.1V111M204.5 90.8V111.7M205.5 91V112.9M206.5 90.4V113.2M207.5 91.1V112.6M208.5 89.4V112M209.5 92V111.2M210.5 90V111M211.5 88.7V112.9M212.5 91.8V111.6M213.5 86.5V111.9M214.5 90.8V111.4M215.5 91.5V111.7M216.5 89.8V111.2M217.5 89.9V111.8M218.5 90.2V111.9M219.5 92.2V112.8M220.5 89.3V111.2M221.5 89.4V110.7M222.5 91.6V111.7M223.5 87.2V112.5M224.5 76.6V97.3M225.5 75.9V102.2M226.5 77.8V97.9M227.5 75.7V96.9M228.5 77.6V98.9M229.5 77.8V98.3M230.5 76.2V97.6M231.5 73.9V97.5M232.5 77.2V96.8M233.5 77.5V96.3M234.5 74.3V98.6M235.5 74.7V99.1M236.5 76.4V101M237.5 75.9V98M238.5 77.5V97.4M239.5 77.7V100.9M240.5 92V112.5M241.5 91.1V114M242.5 89.4V112M243.5 91.1V113.2M244.5 90.7V113.5M245.5 89.6V111.3M246.5 92.4V110.9M247.5 89.1V113M248.5 90.2V113.7M249.5 91.8V113.1M250.5 76.5V111.7M251.5 92.1V110.8M252.5 89.8V111.4M253.5 90.7V113.9M254.5 91V113.5M255.5 92V111.8M256.5 90.1V113.5M257.5 90V111.9M258.5 89.7V111.3M259.5 92.2V112.2M260.5 91.1V111.4M261.5 91.3V113.6M262.5 89.3V111.4M263.5 89.5V112.5M264.5 90V114.2M265.5 89.2V112.1M266.5 90.6V111.4M267.5 84.3V113.8M268.5 91V112.9M269.5 90.8V114.2M270.5 91.9V112.1M271.5 90.3V112.8M272.5 90.3V112M273.5 88.7V113M274.5 90.2V112.3M275.5 91.9V111.7M276.5 90.7V111M277.5 90.6V111.4M278.5 89.7V111.7M279.5 90.6V112.8M280.5 91.3V112.9M281.5 90.5V112M282.5 90.5V113.5M283.5 91.8V115.5M284.5 91.6V111.7M285.5 90.6V113.3M286.5 88.9V112.8M287.5 90.5V112.7M288.5 90.7V112.3M289.5 90V110.5M290.5 90.6V114M291.5 92.1V110.6M292.5 91.3V112.5M293.5 88.6V113.5M294.5 90.5V113.1M295.5 91.8V111.1M296.5 90.5V111M297.5 90.9V112.4M298.5 86V110.7M299.5 91.7V114.8M300.5 89.7V115.3M301.5 88.6V112M302.5 89.7V112M303.5 91.8V112.5M304.5 90.5V116.4M305.5 91.6V111.2M306.5 76.9V97M307.5 73.1V98.5M308.5 77.9V97.3M309.5 74.8V99.3M310.5 73.2V102.5M311.5 89.4V113.5M312.5 91.1V111.5M313.5 87.2V112.4M314.5 87V111.9M315.5 92.2V111.1M316.5 91.7V113.3M317.5 90.2V114.6M318.5 90.5V113.2M319.5 89.9V115.7M320.5 90V111.3M321.5 91.6V112M322.5 91.2V110.9M323.5 90.2V112.4M324.5 86.8V114.7M325.5 88.9V112.2M326.5 88.2V111.8M327.5 89.6V113.4M328.5 90.9V114.6M329.5 91.3V114.1M330.5 92V116.8M331.5 90.7V114.6M332.5 90.2V113M333.5 91.4V114.8M334.5 92.2V111.5M335.5 92.4V112.2M336.5 92.3V111.6M337.5 87.9V110.8M338.5 87.5V111.1M339.5 89.1V113.1M340.5 89.7V113.7M341.5 89.9V111.9M342.5 92V111.7M343.5 85.5V116M344.5 90.7V111.5M345.5 90.5V113.1M346.5 91.2V111M347.5 92.1V110.8M348.5 90.3V112.5M349.5 88.9V112.2M350.5 89.9V111.5M351.5 92V110.8M352.5 85.1V112.6M353.5 88.7V111.3M354.5 92.1V115.8M355.5 91.2V113.1M356.5 86.5V111.6M357.5 91.1V111.1M358.5 91.1V112.2M359.5 90.6V111.5M360.5 90.1V111M361.5 90.8V113.2M362.5 89.1V111.4M363.5 91V113.1M364.5 91.4V111.6M365.5 92.3V112.8M366.5 90.3V112.6M367.5 86.1V114.1M368.5 89.8V113.7M369.5 88.5V111.2M370.5 90.2V113.7M371.5 90.3V116.2M372.5 92.4V111.3M373.5 91.4V113.5M374.5 91.1V112.2M375.5 89.5V112.9M376.5 91V118.8M377.5 92.2V111.2M378.5 92.3V112.4M379.5 91.1V111.1M380.5 90.6V112M381.5 86V113.9M382.5 91.9V112.3M383.5 91.5V111.2M384.5 91.4V114M385.5 87.4V113M386.5 91.1V111.4M387.5 91V113.1M388.5 89.9V110.7M389.5 92.7V112.5M390.5 88.8V111.9M391.5 90.6V114.4M392.5 89.7V112.1M393.5 92.3V110.8M394.5 88.8V117.6M395.5 89.5V112.3M396.5 84.7V112.6M397.5 90.8V110.9M398.5 88.2V116.1M399.5 89.1V115.4M400.5 90.8V115M401.5 92.3V113M402.5 89.1V114M403.5 90.7V113.8M404.5 87.6V110.9M405.5 90.6V114.9M406.5 92.1V111M407.5 90.6V113.4M408.5 90.5V113.8M409.5 90V110.7M410.5 89.6V114M411.5 90.7V113M412.5 92.2V112.9M413.5 92V111.9M414.5 90.6V112.7M415.5 90.6V113.9M416.5 88.4V111.4M417.5 90.5V111.1M418.5 88.9V114.2M419.5 90.3V110.5M420.5 91.2V114.5M421.5 86.9V110.5M422.5 90.8V112.2M423.5 90.8V114.8M424.5 90.4V114.5M425.5 89V111.7M426.5 91V114M427.5 90.3V117.7M428.5 91.4V110.4M429.5 90V115.9M430.5 92.5V111.2M431.5 91.5V116.3M432.5 91.3V111.4M433.5 90.9V116.4M434.5 91.2V113.3M435.5 89V114.2M436.5 89.5V113.9M437.5 91.8V113M438.5 90.3V111.6M439.5 87.9V111.6M440.5 91.4V111.5M441.5 91.1V111.1M442.5 89.8V113.6M443.5 92.1V112.5M444.5 90.8V112M445.5 88.3V114.2M446.5 87V112M447.5 91.7V114M448.5 86.2V113.1M449.5 91.9V115.5M450.5 86.3V113.3M451.5 89.7V114.7M452.5 90.8V113.7M453.5 91V112.4M454.5 89.7V114.2M455.5 87.5V111.2M456.5 89.5V112.7M457.5 88.4V112.7M458.5 88.7V114.1M459.5 88.9V110.9M460.5 85.8V112.4M461.5 88.4V113.4M462.5 90.4V113.8M463.5 89.9V111.7M464.5 92V111M465.5 92.1V113M466.5 91V111M467.5 90.5V112.5M468.5 89.5V112.3M469.5 90.8V112.7M470.5 88.5V114.9M471.5 90V114M472.5 92.2V113.1M473.5 89.2V113.6M474.5 89.2V112.2M475.5 90.5V113M476.5 90.1V112.9M477.5 91.2V115.1M478.5 89.8V112.6M479.5 91.2V116.2M480.5 90.7V112.3M481.5 88.9V112.7M482.5 90.4V111.3M483.5 90.4V111.4M484.5 87.5V111.1M485.5 90.8V111.5M486.5 88.5V115.1M487.5 90.1V112.5M488.5 90V110.6M489.5 91.1V114.7M490.5 89.5V111.7M491.5 86.9V111.3M492.5 91.6V115.2M493.5 91.8V112.5M494.5 87.7V116.5M495.5 89V112.8M496.5 90.1V111.6M497.5 92V111.6M498.5 85.3V112.5M499.5 86.3V111.7M500.5 88.9V113.4M501.5 90.8V112.2M502.5 90.4V116.1M503.5 91V111.7M504.5 91.5V113M505.5 91.1V116.2M506.5 89.5V113.7M507.5 92.4V115.5M508.5 92V115.3M509.5 89.3V112.2M510.5 90.1V111.8M511.5 86.5V110.5M512.5 91.9V112.4M513.5 91.7V112.2M514.5 90.6V112.9M515.5 90.4V115.7M516.5 90.1V112.1M517.5 90.2V112M518.5 89.3V113.2M519.5 78V97.9M520.5 75.9V97.5M521.5 76.9V97.2M522.5 77V98.1M523.5 72.7V98.7M524.5 76.7V97M525.5 73.9V97.4M526.5 69.7V98.2M527.5 88.8V111.4M528.5 90.5V113.8M529.5 90.6V113.9M530.5 90.3V112M531.5 87.6V118.5M532.5 88.9V114.1M533.5 90.3V113.3M534.5 90.5V113M535.5 91.6V114.6M536.5 90V115.3M537.5 91.9V113.1M538.5 91.5V118.4M539.5 90.4V112.5M540.5 91.4V111.7M541.5 92V111.4M542.5 90.7V111.8M543.5 91.7V112.2M544.5 89.6V112M545.5 90.3V111.7M546.5 92V113.4M547.5 90V111.1M548.5 89.4V111M549.5 90.3V112.4M550.5 90.9V112M551.5 91.1V111.4M552.5 86.4V116.6M553.5 90.3V112.1M554.5 90.5V112.9M555.5 76.7V96.8M556.5 77.6V106.7M557.5 76.9V97.7M558.5 75.3V99.7M559.5 75.7V98.4M560.5 75.8V99.1M561.5 76.1V97.4M562.5 77.3V96.2M563.5 76.2V96.6M564.5 74.5V101.2M565.5 87.9V113.3M566.5 92.5V113.4M567.5 91.5V118.5M568.5 92.3V112M569.5 91.6V111.9M570.5 85.5V111.2M571.5 91.1V113.5M572.5 91.6V111.6M573.5 92.2V110.8M574.5 90.9V112.5M575.5 88.1V113.4M576.5 91.6V111.6M577.5 89.9V112.8M578.5 90.2V113.3M579.5 91.3V114.4M580.5 89.3V111.7M581.5 91.1V111.6M582.5 91.5V113.5M583.5 91.4V112.5M584.5 90.2V111.9M585.5 86.4V113.8M586.5 88.9V114.9M587.5 91.5V113.5M588.5 90.5V111.3M589.5 91.6V110.4M590.5 91.7V113.9M591.5 92.3V112M592.5 90V112.3M593.5 91.3V116.9M594.5 90.9V113.9M595.5 90V112.7M596.5 92.1V112.4M597.5 91.9V110.8M598.5 89.9V113.3M599.5 77.5V97.9M600.5 77.4V98.7M601.5 74.6V100.7M602.5 76.4V97.2M603.5 73.9V98.9M604.5 72.7V96.3M605.5 73.5V96.4M606.5 77.8V98.7M607.5 76V99.4M608.5 68V97.3M609.5 75.8V100.1M610.5 91.1V112.4M611.5 91.8V114.3M612.5 89.5V111.5M613.5 92.1V111.4M614.5 92.2V114.5M615.5 91.7V114.9M616.5 90.6V111.3M617.5 88.1V115.1M618.5 91V113M619.5 89V111.3M620.5 91.7V111.4M621.5 91.2V112.3M622.5 90.7V112.1M623.5 91.5V113.8M624.5 88.6V112M625.5 92.1V110.8M626.5 88.6V123.8M627.5 90.2V116.5M628.5 89.5V110.8M629.5 91.6V114M630.5 89.6V110.8M631.5 92.3V113.4M632.5 90.9V111.9M633.5 90.2V114.6M634.5 91.5V112.5M635.5 92.1V111.5M636.5 91.7V115.6M637.5 90.5V112.1M638.5 91.3V112.9M639.5 92.4V112.4M640.5 89.7V113.8M641.5 92V111.6M642.5 90.3V116.6M643.5 91.6V112.7M644.5 92.2V112.7M645.5 89.3V112.5M646.5 91V112.7M647.5 90.1V112M648.5 90.1V111.9M649.5 90.3V112M650.5 91.6V112.8M651.5 90V114.1M652.5 89.2V112.9M653.5 91.5V112.2M654.5 91.9V113.1M655.5 91.4V114M656.5 88.9V113.3M657.5 90.9V115.8M658.5 88V112.5M659.5 91.2V112.5M660.5 90.7V111.7M661.5 87.9V111.5M662.5 87.4V112.8M663.5 89.5V112M664.5 91.9V113.5M665.5 90.7V112.1M666.5 90.8V112.6M667.5 91.8V116.3M668.5 88.5V113.9M669.5 90.1V114.2M670.5 91.7V111.6M671.5 91.9V111.4M672.5 90.4V111.9M673.5 92.3V114.6M674.5 89.1V111.3M675.5 91.3V112.6M676.5 92V115.5M677.5 89.8V112M678.5 91.7V112.5M679.5 90.9V113.4M680.5 90.5V110.9M681.5 91.8V114.8M682.5 90.1V112.1M683.5 88.3V112.1M684.5 88.9V110.8M685.5 90.8V111.5" stroke="#000" stroke-width="1.05" fill="none"/>
<path d="M42.5 156.6V178.5M43.5 160.2V177.5M44.5 162.1V177M45.5 160.8V176.4M46.5 159.4V177.7M47.5 159.2V177.1M48.5 158.3V179.7M49.5 160.4V179M50.5 161V177.7M51.5 158.5V178.2M52.5 162.1V176.4M53.5 161.6V179.3M54.5 159.7V178.1M55.5 158V178.3M56.5 161.1V178.3M57.5 161.2V177M58.5 160.5V176.8M59.5 157V179.2M60.5 161.3V181M61.5 160.8V180.7M62.5 160.7V177.1M63.5 161.6V180.3M64.5 157.7V178M65.5 160.5V178.6M66.5 160.9V177.6M67.5 160.7V177M68.5 157.8V176.6M69.5 159.7V176.8M70.5 160.9V180.4M71.5 161.6V182M72.5 161V179.2M73.5 159.4V177.5M74.5 161.1V176.8M75.5 161.3V176.8M76.5 162V178M77.5 158.9V176.3M78.5 159.5V178.1M79.5 159.3V176.6M80.5 160.6V178.8M81.5 161.2V177.7M82.5 159V177.1M83.5 161.1V177.7M84.5 157V178.7M85.5 161V181M86.5 160.4V179.9M87.5 157.4V179.2M88.5 157.2V177.4M89.5 161.9V178.4M90.5 159.7V179.1M91.5 161.6V177.9M92.5 158.2V176.7M93.5 158.5V176.1M94.5 160.3V178.8M95.5 161.1V176.8M96.5 158V177.5M97.5 160.5V178.1M98.5 161.5V176.7M99.5 161.3V176.7M100.5 161.9V178M101.5 159.4V179.5M102.5 158.5V177.1M103.5 158.9V178.7M104.5 158.4V178.3M105.5 131.1V152.1M106.5 135V152.4M107.5 133.5V150.8M108.5 133.5V150.2M109.5 132.8V151.8M110.5 133.5V152.6M111.5 132V150.5M112.5 135V153.6M113.5 134.9V152.8M114.5 134.7V150.2M115.5 133.1V152.5M116.5 131.5V153.1M117.5 133.4V152.8M118.5 134.1V151.2M119.5 133.7V150.9M120.5 133.7V152.6M121.5 134.5V151.1M122.5 135.2V152.8M123.5 134V151.9M124.5 135.4V151.8M125.5 135.1V151M126.5 133.4V152.5M127.5 135.4V151.2M128.5 134V151.8M129.5 129V152.2M130.5 133.4V153.1M131.5 134.7V152.4M132.5 134V150.8M133.5 135.1V151.7M134.5 131.5V153M135.5 133.3V152.9M136.5 133.1V152.9M137.5 133.3V153.3M138.5 135V151.8M139.5 132.9V154.1M140.5 133.9V152.4M141.5 162.1V178.4M142.5 161.5V176.3M143.5 162V177.1M144.5 159.6V175.9M145.5 158.9V176.5M146.5 157.1V177.7M147.5 160.1V176.6M148.5 161.5V181M149.5 154.4V177.3M150.5 160.7V178.7M151.5 161.4V178.2M152.5 160.1V176.7M153.5 159V176.8M154.5 160.7V178.2M155.5 159.5V177.1M156.5 161V178.1M157.5 159.9V177.8M158.5 161.1V179M159.5 159.9V178.9M160.5 160.3V177.5M161.5 160.2V176.7M162.5 159.8V178.1M163.5 160.1V181.1M164.5 157.3V178.8M165.5 161.7V180.8M166.5 156.1V177.2M167.5 158.8V179.3M168.5 158.3V181.6M169.5 158.5V178.9M170.5 161.9V178.4M171.5 158.3V178.8M172.5 160.7V178.2M173.5 160.3V177.4M174.5 159.4V179.1M175.5 159.5V178.6M176.5 158.8V178.3M177.5 159.7V178.2M178.5 160.7V178M179.5 159V177.7M180.5 157.7V176.6M181.5 159V179.4M182.5 161.1V176.9M183.5 159.5V178.6M184.5 159.6V177.6M185.5 160.9V176.6M186.5 160.4V177.6M187.5 160V178.6M188.5 158.7V176.8M189.5 161.3V178.4M190.5 158.3V178.8M191.5 161.2V177.7M192.5 162V178M193.5 159.6V176.8M194.5 161.7V181.7M195.5 161.2V177M196.5 159.9V178.9M197.5 160.2V181.1M198.5 161.1V177.3M199.5 160.3V176.9M200.5 161.6V178.1M201.5 159V178.4M202.5 160.3V178.5M203.5 161.8V177.7M204.5 160.1V176.7M205.5 160.3V176.6M206.5 159.2V181M207.5 159.7V178.5M208.5 157.8V180.6M209.5 159.7V177.9M210.5 159.2V178.6M211.5 160.8V177.7M212.5 160.4V178.8M213.5 159.8V177.5M214.5 157.1V178.9M215.5 161.2V178.6M216.5 158.5V176.1M217.5 161V179M218.5 160.2V177M219.5 156V179.8M220.5 160.4V185.1M221.5 157.6V178.6M222.5 160.9V180M223.5 160.3V176.7M224.5 160.5V178.1M225.5 159.5V181.1M226.5 161.2V179.4M227.5 162.1V179.9M228.5 161.6V177.8M229.5 161.8V177.1M230.5 159.9V177.3M231.5 160.4V179.8M232.5 162.2V177M233.5 161.6V179.2M234.5 159.6V179.3M235.5 157.5V178.3M236.5 160.9V180.1M237.5 159.5V179.8M238.5 160.1V178.8M239.5 161V178.8M240.5 160.6V176.7M241.5 161.5V177.3M242.5 132.6V151.6M243.5 132.1V152.5M244.5 134.3V150.1M245.5 133.9V150.9M246.5 135.2V152.8M247.5 131.6V151M248.5 134.7V152.5M249.5 133V158.6M250.5 131.8V151M251.5 133.9V152.5M252.5 131.8V152.6M253.5 134.2V152.8M254.5 134.8V154.4M255.5 132.3V158.8M256.5 135V151.3M257.5 132.8V150.1M258.5 133.4V151.5M259.5 133.4V150.6M260.5 133.9V153M261.5 128.5V152.9M262.5 132.5V151.6M263.5 134.3V151M264.5 134.5V151.8M265.5 134.9V150.8M266.5 133.3V153.2M267.5 132.1V153.2M268.5 130.7V153.5M269.5 134.5V150.1M270.5 132.5V151.3M271.5 135.8V150.5M272.5 133.4V151.2M273.5 128.5V151.1M274.5 133.3V151.9M275.5 134.1V151.5M276.5 130.8V153.1M277.5 132.4V153.6M278.5 133.6V152.5M279.5 133.9V150.4M280.5 133V151.3M281.5 133.8V151.1M282.5 134.4V151M283.5 134.8V150.9M284.5 135.1V152.9M285.5 160.9V178.2M286.5 160.9V178.8M287.5 158.8V177.3M288.5 160.1V182.7M289.5 160.1V180.4M290.5 157.9V176.8M291.5 160.5V178.1M292.5 161.3V176.5M293.5 155.1V178.8M294.5 161.3V177.6M295.5 160.1V179.1M296.5 161.1V178.6M297.5 160.1V176.2M298.5 159.2V177.9M299.5 158.8V181.7M300.5 159.4V176M301.5 160.9V179.2M302.5 158.2V177.6M303.5 161.4V178.9M304.5 160.6V177.6M305.5 158.8V177.4M306.5 160.1V177M307.5 161.2V178.3M308.5 160.9V176.2M309.5 160.4V179M310.5 157.6V179.2M311.5 162V179.4M312.5 159V177.8M313.5 157.9V178.1M314.5 158.4V178.1M315.5 161.8V176.7M316.5 161.4V178.8M317.5 159V178.6M318.5 161.3V180.6M319.5 159.9V177.3M320.5 159.7V181.4M321.5 161.1V177.7M322.5 160.7V180.8M323.5 159V178.3M324.5 160.8V176.2M325.5 161.9V177.3M326.5 160.2V177.3M327.5 160.7V178.5M328.5 161.5V182.2M329.5 159.6V178.4M330.5 159.8V176.7M331.5 161V177.8M332.5 160.8V178M333.5 160.8V177.9M334.5 160.6V178.6M335.5 159.6V177.4M336.5 161.7V177.6M337.5 160.5V179.9M338.5 159.2V177.5M339.5 161.7V177.8M340.5 160.6V178.5M341.5 162V176.9M342.5 161.2V176.6M343.5 158.6V176.9M344.5 161.2V177.4M345.5 161.8V178.1M346.5 159.5V179M347.5 160V177.5M348.5 161.2V178.4M349.5 160.4V177.3M350.5 159.3V177.5M351.5 159.9V178.7M352.5 159.2V177.5M353.5 161.5V176.9M354.5 158.1V178.5M355.5 159.3V177.2M356.5 160.8V181.7M357.5 159.2V179M358.5 161V177.9M359.5 160.5V178.6M360.5 158.6V179.6M361.5 159.2V176.4M362.5 159.3V178.3M363.5 161.6V178.1M364.5 161.3V176.1M365.5 160.7V177.7M366.5 161V177.2M367.5 159.8V181.1M368.5 160.8V178.2M369.5 159.9V178M370.5 158.9V177.8M371.5 161.6V178.6M372.5 158.6V176.6M373.5 161V178.3M374.5 160.4V177.4M375.5 131.8V156.1M376.5 134.8V151M377.5 130.2V151.7M378.5 133.2V151.3M379.5 135.3V151.8M380.5 133.7V151.3M381.5 135V150.8M382.5 134.4V153M383.5 133.7V151.3M384.5 131.8V150.9M385.5 134.4V152.7M386.5 134.5V151.4M387.5 134.1V150.5M388.5 134.2V151.2M389.5 133.9V151.5M390.5 133.7V152.3M391.5 135.4V152.2M392.5 132.4V152.3M393.5 133.8V152.4M394.5 131.7V152.7M395.5 135.1V153M396.5 133V150.7M397.5 132.6V150.9M398.5 134.4V149.9M399.5 134.9V151.8M400.5 134.3V151.6M401.5 161.1V177.4M402.5 159.1V178.7M403.5 160V176.3M404.5 159.9V180.1M405.5 161.1V177.6M406.5 156.7V176M407.5 161.2V177.9M408.5 158.9V177.2M409.5 160.2V177.2M410.5 160.4V178.4M411.5 160.3V178.6M412.5 158.4V177.7M413.5 159.7V180M414.5 161.8V179.9M415.5 160.7V178.4M416.5 161V176.8M417.5 162.2V176.8M418.5 159.1V180.7M419.5 160.2V177.1M420.5 160.6V178M421.5 160.8V178.2M422.5 161.9V181.8M423.5 158.8V182M424.5 159.7V177.3M425.5 161.3V177.9M426.5 158.6V176.6M427.5 156.7V180.3M428.5 157.4V177.9M429.5 159.5V180.3M430.5 160.1V178.2M431.5 159.2V177.7M432.5 160.8V177.8M433.5 160V177.5M434.5 159.8V177.4M435.5 159.6V177.7M436.5 161.1V177.3M437.5 160.6V176.7M438.5 161.7V178.8M439.5 160.5V178.8M440.5 162.1V178.9M441.5 160.7V176.9M442.5 161.6V177.1M443.5 160.7V176.7M444.5 161.4V178.2M445.5 161.2V181.7M446.5 160V177.7M447.5 159.9V179.6M448.5 161.4V177M449.5 161.4V177M450.5 161.3V178.5M451.5 160.2V180.4M452.5 159.7V177.6M453.5 159.3V178.4M454.5 160.1V178.1M455.5 159.8V177.6M456.5 161.8V177.6M457.5 157.8V176.5M458.5 160.5V176.9M459.5 161.5V178.5M460.5 160.6V177.1M461.5 160.9V178.4M462.5 161.8V178.9M463.5 160.4V178.5M464.5 159.8V176.4M465.5 159.8V178.1M466.5 158.2V177.3M467.5 162.4V179.4M468.5 160.6V177M469.5 159.3V177.5M470.5 160.8V177.8M471.5 160.1V176.6M472.5 161.4V180.4M473.5 161V181.2M474.5 159.9V176.7M475.5 160V180M476.5 156.2V177.1M477.5 160V178.6M478.5 159.4V178.3M479.5 161.5V177.9M480.5 157.9V177.9M481.5 160.3V179.2M482.5 161.8V177.6M483.5 160.8V183.6M484.5 160.3V177.2M485.5 160.4V177.5M486.5 159.3V185.6M487.5 161.2V177.9M488.5 159.4V179.5M489.5 159.6V179.4M490.5 159.7V178.3M491.5 160.5V178.7M492.5 157.9V176.7M493.5 161.5V176.9M494.5 161.3V178.2M495.5 160.6V178M496.5 160.5V177.1M497.5 159.3V177.5M498.5 159.4V176.3M499.5 161.4V177.3M500.5 159.5V179.3M501.5 159.1V178M502.5 161.4V176.9M503.5 160.2V177.2M504.5 160.4V178M505.5 161.2V176.6M506.5 161.4V178M507.5 160.6V178.6M508.5 160.6V177.5M509.5 160.3V177.7M510.5 160.7V176.2M511.5 158.1V176.5M512.5 157.8V179M513.5 155.6V180.3M514.5 156.6V178.8M515.5 160.3V178.2M516.5 159.8V176.7M517.5 156.9V178.2M518.5 157V179.2M519.5 160.2V177.3M520.5 160.9V180.8M521.5 159.3V177.7M522.5 161.5V177.4M523.5 160.6V177.3M524.5 159.6V178.6M525.5 160.3V178.2M526.5 159.5V176.8M527.5 132.4V154.7M528.5 131.4V151.2M529.5 134.3V154.5M530.5 135.4V152.3M531.5 134.9V151.7M532.5 134.8V150.8M533.5 135.2V150.4M534.5 133.8V150.6M535.5 135.6V150.5M536.5 133.1V152.1M537.5 134.1V150.4M538.5 133.7V150.6M539.5 133.6V151M540.5 134.7V151.3M541.5 134.5V152.1M542.5 132.8V150.6M543.5 133.1V151M544.5 134.7V151M545.5 134V150.9M546.5 133V150.9M547.5 132.9V150.8M548.5 135.5V151.7M549.5 135V150.8M550.5 134.2V150.6M551.5 128.1V152M552.5 133.1V150.7M553.5 135.9V152.8M554.5 134.7V151.8M555.5 135V150.4M556.5 133.5V151.7M557.5 131.4V150.9M558.5 134.6V150.1M559.5 134.1V151.3M560.5 131.5V151.2M561.5 133.1V150.4M562.5 133.8V151M563.5 131.8V151.2M564.5 134.6V156.7M565.5 131.6V154.1M566.5 135.5V151.1M567.5 131.7V154.2M568.5 133.4V150.3M569.5 134.8V151.3M570.5 159.2V177.5M571.5 153.8V180.6M572.5 159.2V176.6M573.5 158.5V180.1M574.5 159.5V180.1M575.5 160.3V178.5M576.5 161.3V177.8M577.5 160.4V177.4M578.5 159.9V177.3M579.5 160.9V176.6M580.5 160.6V177.4M581.5 161V179.2M582.5 160.7V178.7M583.5 161.5V177.4M584.5 157.3V177.8M585.5 159.5V180.6M586.5 160.9V179.6M587.5 160.5V176.3M588.5 161.1V179.1M589.5 157.2V178.2M590.5 157.7V177.2M591.5 161.2V177.5M592.5 161.1V177.8M593.5 158.7V176.6M594.5 159.8V176.9M595.5 157.8V180.8M596.5 160.4V177.2M597.5 161.8V177.6M598.5 158.6V177.5M599.5 161.8V178.3M600.5 159.9V176.3M601.5 160.4V176M602.5 160.9V178.7M603.5 160.2V179.2M604.5 160.8V178.9M605.5 160.9V177.1M606.5 159.3V179.2M607.5 159.9V177M608.5 159.9V177.9M609.5 161.4V178.1M610.5 161.8V176.8M611.5 161.3V180.1M612.5 159.2V179.3M613.5 160.3V176.3M614.5 160.1V178.2M615.5 160.6V177.2M616.5 161.3V177.4M617.5 160.7V179.1M618.5 159.8V178.4M619.5 161.1V179.8M620.5 161.4V180.4M621.5 159.4V175.9M622.5 160V178.3M623.5 159.9V177.6M624.5 157.6V176.6M625.5 161.5V178.2M626.5 158V177.5M627.5 160.8V178.3M628.5 162V177.4M629.5 160.8V178.5M630.5 159.3V176.8M631.5 157.6V179.8M632.5 153.9V180.2M633.5 156.4V178.2M634.5 159.4V178.4M635.5 160.1V177M636.5 157.6V179.8M637.5 160.6V179.8M638.5 161.1V178.1M639.5 159.5V177.6M640.5 161.7V183.2M641.5 160.9V176.4M642.5 161V176.2M643.5 159.7V177.7M644.5 162V176.6M645.5 157.9V176.7M646.5 159.3V177.6M647.5 161.4V177M648.5 160.9V178.1M649.5 157.6V177.9M650.5 162.2V177.8M651.5 160.6V177.1M652.5 157.5V177.3M653.5 160.3V177.5M654.5 160.4V177.2M655.5 161V179.7M656.5 161.5V177.6M657.5 159.8V178.5M658.5 161V177.2M659.5 160.5V177.1M660.5 159V178.5M661.5 160.4V178.8M662.5 158.6V178.6M663.5 160.2V177.9M664.5 160.7V177.1M665.5 160.8V177.8M666.5 160.3V176.9M667.5 161.7V177.1M668.5 161.9V179.6M669.5 160V179.4M670.5 160.9V178.1M671.5 162.1V178.1M672.5 157.6V177.2M673.5 161.8V176M674.5 161.4V176.7M675.5 160.6V178.3M676.5 159.3V177.6M677.5 159.7V178M678.5 159.6V178.7M679.5 160.7V179.6M680.5 161.2V178.7M681.5 160.5V180.8M682.5 160.8V177.1M683.5 158.5V176.9M684.5 160.2V177.3M685.5 159.4V176.6" stroke="#000" stroke-opacity=".38" stroke-width="1" fill="none"/><path d="M42.5 157.6V177.5M43.5 160.4V176.7M44.5 162.3V176.5M45.5 161.4V176.1M46.5 159.5V177.6M47.5 159.7V177M48.5 161.2V177.2M49.5 160.8V177.8M50.5 162V176.5M51.5 160V176.8M52.5 162.2V176.2M53.5 162.4V177.8M54.5 161.5V177.8M55.5 158.5V177.9M56.5 161.9V176.7M57.5 161.4V176.5M58.5 161V176.2M59.5 159.5V178.9M60.5 161.5V178.1M61.5 160.9V176.3M62.5 161V177M63.5 161.8V176.5M64.5 158.7V177.3M65.5 160.8V177.8M66.5 161.7V176.8M67.5 160.9V176M68.5 159.5V176.3M69.5 160.2V176.4M70.5 161.5V179.9M71.5 161.6V180.6M72.5 161.1V177.6M73.5 161.7V176.5M74.5 162.3V176.5M75.5 161.4V176.5M76.5 162.2V177.9M77.5 159.5V176M78.5 160.5V178M79.5 160.6V176.2M80.5 161.2V178.3M81.5 161.7V177.6M82.5 159.8V177.1M83.5 161.3V177.1M84.5 160.2V176.7M85.5 161.1V180.7M86.5 160.7V176.7M87.5 160.9V178.8M88.5 157.8V177.2M89.5 161.9V176.7M90.5 161.1V178.7M91.5 162V176.4M92.5 161.5V176.5M93.5 161.4V176M94.5 160.9V177.4M95.5 161.3V176.7M96.5 160V177.2M97.5 161.2V177.9M98.5 162.1V176.5M99.5 161.6V176.4M100.5 162.2V176.6M101.5 160.9V179.3M102.5 158.8V176.1M103.5 161.5V178.3M104.5 160.5V177.7M105.5 133.2V152.1M106.5 135.1V152.3M107.5 133.8V150.7M108.5 133.7V149.9M109.5 134.1V150.7M110.5 134.1V150.7M111.5 134.4V150M112.5 135.9V152.1M113.5 135.7V152.5M114.5 135.3V149.8M115.5 135.4V151.6M116.5 133.6V151.4M117.5 134V152M118.5 134.7V150.7M119.5 134.2V150.7M120.5 135V152.5M121.5 135.1V150.1M122.5 135.3V151.7M123.5 135V150.6M124.5 135.5V151.4M125.5 135.1V150.7M126.5 133.5V151.3M127.5 136V150.1M128.5 135.2V150.7M129.5 130.7V151.1M130.5 134.2V152.6M131.5 134.7V151.2M132.5 135.4V150.5M133.5 135.3V150.2M134.5 132.7V152.4M135.5 133.4V152.6M136.5 133.5V152.6M137.5 133.7V153.2M138.5 135.1V151.6M139.5 134.7V152.6M140.5 135.2V152.1M141.5 162.4V178.1M142.5 161.7V175.9M143.5 162.2V176.8M144.5 160.8V175.8M145.5 159.4V176.5M146.5 159.9V177.2M147.5 162.1V176.1M148.5 162.2V176.7M149.5 155.8V176.6M150.5 160.9V176.4M151.5 161.6V177.1M152.5 160.8V176.3M153.5 161.7V176.4M154.5 160.9V177.7M155.5 159.7V177.1M156.5 161V177.1M157.5 161.1V177.5M158.5 161.4V177.4M159.5 159.9V178.8M160.5 161.7V177.3M161.5 161.2V175.9M162.5 161.6V176.6M163.5 161.4V180.9M164.5 157.8V177.8M165.5 162.2V177.4M166.5 160.5V177M167.5 159.3V178.4M168.5 159.2V179.9M169.5 158.8V178.9M170.5 162.3V176.9M171.5 159V177.6M172.5 161.3V177.7M173.5 160.5V177M174.5 161.4V178M175.5 161.1V176.6M176.5 161.9V177.6M177.5 159.8V178M178.5 161.9V177.5M179.5 161.1V176.6M180.5 158V176.5M181.5 160.9V179.4M182.5 161.4V176.3M183.5 159.7V177.2M184.5 160.2V177M185.5 161.3V176.1M186.5 161.1V177M187.5 160.7V178.4M188.5 159V176.4M189.5 161.5V176.5M190.5 160.6V177.7M191.5 161.7V177.7M192.5 162.2V177.3M193.5 159.6V176.6M194.5 161.9V176.6M195.5 161.3V176.4M196.5 160V177.7M197.5 161.8V177.9M198.5 161.3V177M199.5 161.4V176.3M200.5 162V177M201.5 161.2V177.3M202.5 160.6V178M203.5 162.1V177.1M204.5 161.5V176.3M205.5 160.8V176.6M206.5 160.6V180.9M207.5 160.9V178.2M208.5 157.9V180.1M209.5 160.3V177.7M210.5 160.2V176.4M211.5 161.5V176.4M212.5 160.6V177.3M213.5 160.2V177M214.5 161.1V177M215.5 161.5V177.7M216.5 159.7V176M217.5 161.5V178.8M218.5 161.8V176.8M219.5 159.4V178.3M220.5 160.6V181.4M221.5 161.3V178.2M222.5 161.7V179.6M223.5 160.7V176.3M224.5 161.5V176.9M225.5 161.5V177.7M226.5 161.4V179.3M227.5 162.1V178.9M228.5 161.8V176.7M229.5 162V177.1M230.5 160.4V177.3M231.5 160.6V179.3M232.5 162.2V176.1M233.5 161.9V177.1M234.5 161.2V177M235.5 158.8V178M236.5 161.1V178.5M237.5 161.4V178.2M238.5 160.2V178M239.5 161.1V178.2M240.5 161.5V176.2M241.5 162.2V176.8M242.5 133.9V151.5M243.5 133.1V151.5M244.5 134.8V150M245.5 134.5V150.2M246.5 135.5V151.6M247.5 134.1V150.2M248.5 135.1V151.9M249.5 135.3V158M250.5 132.9V151M251.5 134.3V151.4M252.5 133.6V151.2M253.5 134.4V152.1M254.5 135.7V153.4M255.5 135.9V156.6M256.5 135.5V150.7M257.5 134.3V150.1M258.5 135.1V150.7M259.5 135.1V150.4M260.5 134.7V151.9M261.5 129.1V152.1M262.5 135.3V150.5M263.5 135.2V150.9M264.5 135.1V151.6M265.5 135.7V150.3M266.5 134.3V151.5M267.5 135V152.9M268.5 133.2V151.7M269.5 135.3V149.8M270.5 133.9V151.3M271.5 135.9V150.1M272.5 135.2V151.1M273.5 128.8V150.7M274.5 134.6V151.2M275.5 134.7V151.1M276.5 135.6V152M277.5 133.4V151.6M278.5 134.7V152.4M279.5 134.9V150.4M280.5 133.4V151.2M281.5 135.4V151M282.5 135.2V150.8M283.5 135.3V150.6M284.5 135.3V151.3M285.5 161.4V177.2M286.5 161.1V178M287.5 159.3V177M288.5 161.2V180M289.5 160.7V179.4M290.5 159.6V176.7M291.5 161.2V177.8M292.5 161.6V176.5M293.5 155.3V178.6M294.5 161.6V177.1M295.5 161.3V177.4M296.5 161.3V177.7M297.5 161V175.8M298.5 159.4V177.6M299.5 159V179.3M300.5 160.4V175.8M301.5 161.4V177.6M302.5 159V176.8M303.5 161.8V178.7M304.5 161.1V176.2M305.5 158.9V177.1M306.5 160.9V176.4M307.5 162V176.8M308.5 161V176.2M309.5 160.9V177.2M310.5 160.1V178.1M311.5 162V179.3M312.5 159.2V177.3M313.5 161.9V176.8M314.5 160.2V176.4M315.5 161.9V176.5M316.5 161.8V176.9M317.5 160.9V177.9M318.5 161.7V179.8M319.5 161V177M320.5 159.9V178M321.5 161.3V176M322.5 161.9V179.6M323.5 160V177.2M324.5 161.3V176.1M325.5 162.2V176.2M326.5 160.9V176.8M327.5 161V178.3M328.5 161.8V181.5M329.5 161V177.1M330.5 161.2V176.5M331.5 161.3V177.5M332.5 161.4V177.6M333.5 161.5V176.3M334.5 160.7V177.2M335.5 161V177.3M336.5 161.9V176.8M337.5 160.8V178.5M338.5 159.3V177M339.5 162V176.5M340.5 160.8V176.6M341.5 162.3V176.1M342.5 161.2V176M343.5 159.5V175.9M344.5 161.9V176.4M345.5 162V177.3M346.5 160.8V178.5M347.5 160.9V176.3M348.5 161.6V176.5M349.5 160.6V176.9M350.5 160.2V177.5M351.5 160.6V178.3M352.5 159.3V177.3M353.5 161.7V176.4M354.5 159.8V178M355.5 159.5V176.5M356.5 161.5V178.2M357.5 159.8V178.6M358.5 161.4V176.8M359.5 160.5V176.4M360.5 158.6V178.4M361.5 160.7V176.2M362.5 160.6V177.7M363.5 161.8V177.1M364.5 162V175.9M365.5 161.4V176.4M366.5 161.5V177.1M367.5 160.8V179.8M368.5 162.3V177.6M369.5 160.5V177.9M370.5 161.8V177.7M371.5 161.8V177.7M372.5 158.9V176.4M373.5 161.8V177.9M374.5 161.9V176.8M375.5 132.6V155.2M376.5 135.7V149.9M377.5 134V151.2M378.5 134V150.4M379.5 135.5V150.4M380.5 133.9V150.7M381.5 135.5V150.8M382.5 135.2V151.7M383.5 133.8V150.5M384.5 133.9V150.3M385.5 134.8V152.6M386.5 134.9V151.2M387.5 135.9V149.9M388.5 134.9V150.4M389.5 134.6V151M390.5 135.4V151.5M391.5 135.7V151.1M392.5 133V150.9M393.5 134.6V150.4M394.5 134.6V151.4M395.5 135.9V149.7M396.5 133.5V150.6M397.5 134.6V150.7M398.5 135.2V149.9M399.5 135.5V151.4M400.5 134.7V151M401.5 161.4V175.9M402.5 159.3V178.7M403.5 160.6V176.1M404.5 160V176.3M405.5 161.3V177.4M406.5 159.4V176M407.5 161.9V177M408.5 161.2V176.4M409.5 161.7V176.9M410.5 161.7V176.5M411.5 161.4V177.1M412.5 159.2V176.1M413.5 162.3V176.5M414.5 161.8V178.3M415.5 161.6V177.6M416.5 161.1V176.7M417.5 162.3V176.6M418.5 160.2V176.4M419.5 160.5V176.9M420.5 161.4V177.5M421.5 161.7V177.8M422.5 161.9V178.1M423.5 159.5V181.6M424.5 159.8V176.9M425.5 161.8V177.3M426.5 158.9V176.3M427.5 157V177.3M428.5 158.4V176.2M429.5 161V178.3M430.5 161V178.2M431.5 159.6V176.8M432.5 162.2V177.4M433.5 160.2V176.9M434.5 160.6V176.6M435.5 161.1V176.7M436.5 161.7V177.1M437.5 161V176.6M438.5 161.7V177.3M439.5 161.4V178.4M440.5 162.1V177M441.5 161.3V176.6M442.5 162.3V177.1M443.5 161.2V176.7M444.5 162V177.2M445.5 161.4V180.3M446.5 161.3V176.9M447.5 160.6V177M448.5 161.7V176.8M449.5 162V177M450.5 161.5V177.5M451.5 160.4V177.6M452.5 160.3V176.5M453.5 159.9V177.7M454.5 160.1V176.6M455.5 160.4V177.2M456.5 162V176.1M457.5 158.4V176.5M458.5 160.7V176.7M459.5 161.6V177.6M460.5 161.4V177.1M461.5 161V176.9M462.5 162V176.9M463.5 161.5V177.1M464.5 160.3V175.8M465.5 160.8V176.6M466.5 158.5V176.7M467.5 162.5V178.6M468.5 160.7V177M469.5 159.6V177M470.5 161.1V177.6M471.5 160.9V176.1M472.5 161.6V177.9M473.5 161V179.8M474.5 160.4V176.3M475.5 161.8V177.1M476.5 160.1V176.2M477.5 161.1V177.6M478.5 160.6V177.6M479.5 161.7V177M480.5 158.4V177.2M481.5 161.1V177.5M482.5 161.9V176.7M483.5 161V183.4M484.5 160.8V176.6M485.5 160.4V177M486.5 159.8V184.9M487.5 161.2V177M488.5 159.7V178.1M489.5 160V178.9M490.5 160.3V178.2M491.5 161.3V178.3M492.5 158.9V175.8M493.5 161.5V176.1M494.5 161.4V177.9M495.5 161.3V177.4M496.5 161V176.6M497.5 159.8V177.2M498.5 160.8V176.1M499.5 161.5V177M500.5 160V176.6M501.5 161.6V176.2M502.5 161.5V176.1M503.5 160.9V176.5M504.5 160.7V177.5M505.5 161.4V176.2M506.5 161.7V177.8M507.5 161.8V176.1M508.5 161.4V177.1M509.5 161.3V177M510.5 161.5V176.1M511.5 158.4V176.2M512.5 161.5V177.5M513.5 157.1V177.9M514.5 157.9V178.4M515.5 161.3V177.8M516.5 162.1V176.4M517.5 160.5V176.3M518.5 159.4V178.4M519.5 161.4V177.2M520.5 161.1V178.1M521.5 159.8V176.6M522.5 161.5V177.3M523.5 161.4V176.7M524.5 162.2V175.8M525.5 160.4V177.9M526.5 160V176.5M527.5 132.6V153.4M528.5 132.3V151.2M529.5 135.3V150.9M530.5 135.6V151.6M531.5 135.1V150.5M532.5 135.3V150.3M533.5 135.2V149.9M534.5 134.6V150.4M535.5 135.7V150.5M536.5 135.5V151.5M537.5 134.4V150.3M538.5 134.4V150.5M539.5 134.4V150.8M540.5 135.8V150.3M541.5 134.7V151.1M542.5 133.6V150.1M543.5 135.1V151M544.5 135.4V150.9M545.5 135.2V150.7M546.5 133.5V150.4M547.5 133.7V150.8M548.5 135.6V151M549.5 135.4V150.4M550.5 134.6V150.5M551.5 133.4V151.7M552.5 133.1V150.7M553.5 136.1V151.9M554.5 135V151.1M555.5 135.3V150.4M556.5 134.7V151.2M557.5 132.4V150.1M558.5 134.6V149.9M559.5 135.5V149.8M560.5 132.7V150.7M561.5 133.6V150M562.5 134.5V149.6M563.5 134.1V150.8M564.5 135.1V155.9M565.5 134.6V152.8M566.5 135.7V150.3M567.5 133.4V152M568.5 134.5V150M569.5 135.4V151.3M570.5 159.3V176.9M571.5 154.1V179.5M572.5 159.7V176.5M573.5 161V178.1M574.5 160.5V177M575.5 161.9V176.5M576.5 161.5V176.7M577.5 161.9V176.2M578.5 160.3V177.1M579.5 161.5V176.6M580.5 161V176.3M581.5 161.4V178.7M582.5 160.9V176.3M583.5 161.6V176.6M584.5 161.7V177M585.5 161.9V180.1M586.5 161.1V177.1M587.5 160.6V176.2M588.5 162.1V178.3M589.5 160V177.5M590.5 159.3V176.3M591.5 161.8V177.2M592.5 161.4V177.3M593.5 160.3V176.6M594.5 159.9V176.7M595.5 158.7V176.1M596.5 160.9V176.7M597.5 162.3V176.2M598.5 159.4V177.5M599.5 162.2V176.5M600.5 160.7V176.2M601.5 160.9V175.8M602.5 161.3V178.6M603.5 161.5V177.9M604.5 161.8V177.5M605.5 161.5V176.9M606.5 160.1V177.4M607.5 160.8V176.3M608.5 161.5V177.5M609.5 161.8V176M610.5 161.9V176.5M611.5 161.5V180.1M612.5 160.5V178.8M613.5 160.7V176.1M614.5 161V176.1M615.5 161.5V177M616.5 161.6V177.4M617.5 161.3V178.2M618.5 160.5V178.3M619.5 162.1V179.3M620.5 162V179.4M621.5 161.1V175.9M622.5 162V177.2M623.5 160.2V176.8M624.5 160V176.2M625.5 161.5V178.1M626.5 160.5V177.1M627.5 161.9V178.2M628.5 162V177.2M629.5 161.1V177M630.5 159.4V176M631.5 160.1V179.7M632.5 156.6V178M633.5 156.9V176.9M634.5 160.8V177.4M635.5 161V176.4M636.5 161.9V178.2M637.5 161V178.1M638.5 161.4V176.2M639.5 160.7V176.4M640.5 162V176.9M641.5 161.4V176.3M642.5 162.2V176.1M643.5 160V177.3M644.5 162.2V176.5M645.5 158.4V176.4M646.5 159.8V176.7M647.5 161.5V176.4M648.5 161V176.7M649.5 158.4V177.8M650.5 162.3V177.8M651.5 160.7V177M652.5 159.2V176.8M653.5 160.5V177.1M654.5 160.8V177.2M655.5 161.3V177.4M656.5 161.8V177.2M657.5 161.3V176.7M658.5 161.2V176.9M659.5 160.6V176.7M660.5 160.8V178M661.5 160.4V177.2M662.5 161.2V177.7M663.5 161.1V176.4M664.5 161.1V177.1M665.5 161.6V177.2M666.5 161.6V176.1M667.5 161.8V176.9M668.5 162V177.7M669.5 162.1V178.5M670.5 161V176.7M671.5 162.2V176.6M672.5 161.1V176.1M673.5 162.1V175.9M674.5 161.9V175.9M675.5 161.2V177.3M676.5 161.3V176.7M677.5 160.5V176.7M678.5 161V177.3M679.5 161.7V177.8M680.5 161.4V178.4M681.5 160.5V178.1M682.5 161.2V177.1M683.5 159.3V175.8M684.5 161.8V176.9M685.5 161.8V176.4" stroke="#000" stroke-width="1.05" fill="none"/><path d="M105.2 149.4V163.5M140.8 149.4V163.5M242.2 149.4V163.5M284.8 149.4V163.5M375.2 149.4V163.5M400.8 149.4V163.5M527.2 149.4V163.5M569.8 149.4V163.5" stroke="#000" stroke-width=".8" stroke-opacity=".85" fill="none"/>
</g>
<g font-family='"Liberation Sans", Arial, Helvetica, sans-serif' fill="#111" stroke="#111" stroke-width=".3">
<text x="42.2" y="22.6" font-size="25" stroke-width=".35">a</text>
<text x="0.5" y="261" font-size="24.5" stroke-width=".35">b</text>
<text x="343.6" y="255.4" font-size="24" stroke-width=".35">c</text>
<text x="41.4" y="65" font-size="13.9">500 mM Na<tspan dy="-5.6" font-size="9">+</tspan></text>
<text x="41.4" y="130.3" font-size="13.9">500 mM K<tspan dy="-5.6" font-size="9">+</tspan></text>
<text x="41.4" y="192.7" font-size="13.9">500 mM Cs<tspan dy="-5.6" font-size="9">+</tspan></text>
<text x="114" y="214" font-size="13.9">5 s</text>
<text x="0.2" y="187" font-size="11.4">5 pA</text>
</g>
<path d="M26 175.7V200.7H132.8" fill="none" stroke="#111" stroke-width="1.5"/>
<g id="bars-b" fill="#c2c2c2" stroke="#111" stroke-width="1.45">
<rect x="60.5" y="471.9" width="8.1" height="1.4"/>
<rect x="70.9" y="471.9" width="8.1" height="1.4"/>
<rect x="101.8" y="471.9" width="8.1" height="1.4"/>
<rect x="112.2" y="471.9" width="8.1" height="1.4"/>
<rect x="122.5" y="465.3" width="8.1" height="8"/>
<rect x="132.8" y="460.4" width="8.1" height="12.9"/>
<rect x="143.1" y="440.8" width="8.1" height="32.5"/>
<rect x="153.4" y="450.6" width="8.1" height="22.7"/>
<rect x="163.8" y="416.2" width="8.1" height="57"/>
<rect x="174.1" y="388.4" width="8.1" height="84.9"/>
<rect x="184.4" y="354.1" width="8.1" height="119.2"/>
<rect x="194.7" y="392.5" width="8.1" height="80.8"/>
<rect x="205" y="398.3" width="8.1" height="75"/>
<rect x="215.4" y="300.1" width="8.1" height="173.2"/>
<rect x="225.7" y="267.4" width="8.1" height="205.9"/>
<rect x="236" y="347.6" width="8.1" height="125.7"/>
<rect x="246.3" y="390.1" width="8.1" height="83.2"/>
<rect x="256.6" y="426.1" width="8.1" height="47.2"/>
<rect x="266.9" y="460.4" width="8.1" height="12.9" stroke="#2f76b3"/>
<rect x="297.9" y="471.9" width="8.1" height="1.4"/>
</g>
<g fill="none" stroke="#2f76b3" stroke-width="1.6" stroke-linejoin="round">
<polyline stroke-dasharray="4.2 2.6" points="100,473.2 101.5,473.1 103,473.1 104.5,473 106,472.9 107.5,472.7 109,472.5 110.5,472.2 112,471.9 113.4,471.5 114.9,471 116.4,470.4 117.9,469.7 119.4,468.8 120.9,467.8 122.4,466.7 123.9,465.4 125.4,464 126.8,462.5 128.3,460.9 129.8,459.2 131.3,457.5 132.8,455.8 134.3,454.1 135.8,452.5 137.3,451.1 138.7,449.8 140.2,448.8 141.7,448.1 143.2,447.6 144.7,447.5 146.2,447.6 147.7,448.1 149.2,448.8 150.7,449.8 152.1,451.1 153.6,452.5 155.1,454.1 156.6,455.8 158.1,457.5 159.6,459.2 161.1,460.9 162.6,462.5 164,464 165.5,465.4 167,466.7 168.5,467.8 170,468.8 171.5,469.7 173,470.4 174.5,471 176,471.5 177.4,471.9 178.9,472.2 180.4,472.5 181.9,472.7 183.4,472.9 184.9,473 186.4,473.1 187.9,473.1 189.3,473.2"/>
<polyline stroke-dasharray="4.2 2.6" points="147.2,472.8 148.4,472.6 149.7,472.3 150.9,472 152.1,471.5 153.4,470.8 154.6,469.9 155.9,468.8 157.1,467.4 158.3,465.6 159.6,463.5 160.8,460.9 162.1,457.8 163.3,454.1 164.5,449.8 165.8,445 167,439.6 168.3,433.6 169.5,427.1 170.7,420.2 172,413 173.2,405.7 174.5,398.3 175.7,391.2 176.9,384.5 178.2,378.4 179.4,373.1 180.7,368.7 181.9,365.5 183.1,363.6 184.4,362.9 185.6,363.6 186.9,365.5 188.1,368.7 189.3,373.1 190.6,378.4 191.8,384.5 193.1,391.2 194.3,398.3 195.5,405.7 196.8,413 198,420.2 199.3,427.1 200.5,433.6 201.7,439.6 203,445 204.2,449.8 205.5,454.1 206.7,457.8 208,460.9 209.2,463.5 210.4,465.6 211.7,467.4 212.9,468.8 214.2,469.9 215.4,470.8 216.6,471.5 217.9,472 219.1,472.3 220.4,472.6 221.6,472.8"/>
<polyline stroke-dasharray="4.2 2.6" points="178,472.5 179.7,472.1 181.4,471.6 183.1,471 184.9,470.1 186.6,468.9 188.3,467.4 190,465.4 191.7,463 193.4,459.9 195.2,456.1 196.9,451.6 198.6,446.1 200.3,439.7 202,432.3 203.7,423.8 205.5,414.3 207.2,403.9 208.9,392.5 210.6,380.5 212.3,367.9 214,355.1 215.8,342.3 217.5,329.8 219.2,318.1 220.9,307.4 222.6,298.1 224.3,290.5 226.1,284.9 227.8,281.4 229.5,280.3 231.2,281.4 232.9,284.9 234.6,290.5 236.4,298.1 238.1,307.4 239.8,318.1 241.5,329.8 243.2,342.3 244.9,355.1 246.7,367.9 248.4,380.5 250.1,392.5 251.8,403.9 253.5,414.3 255.2,423.8 257,432.3 258.7,439.7 260.4,446.1 262.1,451.6 263.8,456.1 265.5,459.9 267.2,463 269,465.4 270.7,467.4 272.4,468.9 274.1,470.1 275.8,471 277.5,471.6 279.3,472.1 281,472.5"/>
<polyline points="102.3,473.1 103.2,473.1 104.1,473 105,473 105.9,472.9 106.8,472.8 107.7,472.7 108.6,472.6 109.5,472.4 110.4,472.3 111.3,472.1 112.2,471.8 113.1,471.6 114,471.3 114.9,471 115.8,470.6 116.7,470.2 117.6,469.8 118.5,469.3 119.4,468.8 120.3,468.2 121.2,467.5 122.1,466.9 123.1,466.1 124,465.3 124.9,464.5 125.8,463.6 126.7,462.7 127.6,461.7 128.5,460.7 129.4,459.7 130.3,458.7 131.2,457.6 132.1,456.6 133,455.5 133.9,454.5 134.8,453.5 135.7,452.6 136.6,451.7 137.5,450.9 138.4,450.1 139.3,449.4 140.2,448.8 141.1,448.3 142,447.9 142.9,447.6 143.8,447.3 144.7,447.2 145.6,447.2 146.5,447.3 147.4,447.5 148.3,447.7 149.2,448 150.1,448.4 151,448.7 151.9,449.1 152.8,449.5 153.7,449.9 154.6,450.2 155.5,450.4 156.4,450.4 157.3,450.4 158.2,450.1 159.1,449.7 160,449 160.9,448 161.8,446.8 162.7,445.2 163.6,443.3 164.5,441 165.4,438.4 166.3,435.4 167.2,432 168.2,428.3 169.1,424.3 170,420 170.9,415.4 171.8,410.6 172.7,405.7 173.6,400.7 174.5,395.7 175.4,390.7 176.3,385.8 177.2,381.2 178.1,376.8 179,372.8 179.9,369.3 180.8,366.2 181.7,363.6 182.6,361.7 183.5,360.3 184.4,359.6 185.3,359.5 186.2,359.9 187.1,361 188,362.6 188.9,364.7 189.8,367.2 190.7,370 191.6,373.1 192.5,376.4 193.4,379.8 194.3,383.1 195.2,386.3 196.1,389.4 197,392.2 197.9,394.6 198.8,396.6 199.7,398.2 200.6,399.3 201.5,399.8 202.4,399.7 203.3,399 204.2,397.7 205.1,395.9 206,393.4 206.9,390.4 207.8,386.9 208.7,382.8 209.6,378.3 210.5,373.4 211.4,368.2 212.3,362.6 213.2,356.8 214.2,350.8 215.1,344.7 216,338.6 216.9,332.4 217.8,326.4 218.7,320.5 219.6,314.8 220.5,309.3 221.4,304.2 222.3,299.5 223.2,295.2 224.1,291.3 225,288 225.9,285.3 226.8,283.1 227.7,281.5 228.6,280.6 229.5,280.2 230.4,280.6 231.3,281.6 232.2,283.2 233.1,285.4 234,288.2 234.9,291.5 235.8,295.5 236.7,299.9 237.6,304.7 238.5,310 239.4,315.6 240.3,321.6 241.2,327.8 242.1,334.2 243,340.8 243.9,347.5 244.8,354.2 245.7,361 246.6,367.7 247.5,374.4 248.4,380.9 249.3,387.3 250.2,393.5 251.1,399.6 252,405.4 252.9,410.9 253.8,416.2 254.7,421.2 255.6,425.9 256.5,430.4 257.4,434.5 258.4,438.4 259.3,442 260.2,445.3 261.1,448.4 262,451.2 262.9,453.7 263.8,456 264.7,458.1 265.6,460 266.5,461.7 267.4,463.2 268.3,464.5 269.2,465.7 270.1,466.7 271,467.7 271.9,468.5 272.8,469.2 273.7,469.8 274.6,470.3 275.5,470.8 276.4,471.2 277.3,471.5 278.2,471.8 279.1,472.1 280,472.3 280.9,472.5 281.8,472.6 282.7,472.7"/>
<path d="M65.6 261.8H91.7" stroke-width="1.7"/>
</g>
<g fill="none" stroke="#111" stroke-width="1.4">
<rect x="55.4" y="244.3" width="270.6" height="229"/><path d="M55.4 473.3v4M55.4 244.3v4.2M100.5 473.3v4M100.5 244.3v4.2M145.6 473.3v4M145.6 244.3v4.2M190.7 473.3v4M190.7 244.3v4.2M235.8 473.3v4M235.8 244.3v4.2M280.9 473.3v4M280.9 244.3v4.2M326 473.3v4M326 244.3v4.2M78 473.3v2.4M78 244.3v2.6M123.1 473.3v2.4M123.1 244.3v2.6M168.2 473.3v2.4M168.2 244.3v2.6M213.2 473.3v2.4M213.2 244.3v2.6M258.4 473.3v2.4M258.4 244.3v2.6M303.5 473.3v2.4M303.5 244.3v2.6M55.4 473.3h-4M326 473.3h-4M55.4 440.6h-4M326 440.6h-4M55.4 407.9h-4M326 407.9h-4M55.4 375.2h-4M326 375.2h-4M55.4 342.4h-4M326 342.4h-4M55.4 309.7h-4M326 309.7h-4M55.4 277h-4M326 277h-4M55.4 244.3h-4M326 244.3h-4M55.4 456.9h-2.4M326 456.9h-2.4M55.4 424.2h-2.4M326 424.2h-2.4M55.4 391.5h-2.4M326 391.5h-2.4M55.4 358.8h-2.4M326 358.8h-2.4M55.4 326.1h-2.4M326 326.1h-2.4M55.4 293.4h-2.4M326 293.4h-2.4M55.4 260.7h-2.4M326 260.7h-2.4"/>
</g>
<g font-family='"Liberation Sans", Arial, Helvetica, sans-serif' fill="#111" font-size="12" stroke="#111" stroke-width=".25">
<text x="49.2" y="477.1" text-anchor="end">0</text>
<text x="49.2" y="444.4" text-anchor="end">20</text>
<text x="49.2" y="411.7" text-anchor="end">40</text>
<text x="49.2" y="379" text-anchor="end">60</text>
<text x="49.2" y="346.2" text-anchor="end">80</text>
<text x="49.2" y="313.5" text-anchor="end">100</text>
<text x="49.2" y="280.8" text-anchor="end">120</text>
<text x="49.2" y="248.1" text-anchor="end">140</text>
<text x="55.4" y="492.9" text-anchor="middle">10</text>
<text x="100.5" y="492.9" text-anchor="middle">15</text>
<text x="145.6" y="492.9" text-anchor="middle">20</text>
<text x="190.7" y="492.9" text-anchor="middle">25</text>
<text x="235.8" y="492.9" text-anchor="middle">30</text>
<text x="280.9" y="492.9" text-anchor="middle">35</text>
<text x="326" y="492.9" text-anchor="middle">40</text>
<text x="98.8" y="266.2" font-size="12.1">Gaussian fit</text>
<text x="237.4" y="284.7" font-size="12.3">29.3 pS</text>
<text x="134.8" y="355.9" font-size="12.3">24.3 pS</text>
<text x="90" y="444.9" font-size="12.3">19.9 pS</text>
<text x="191" y="515.6" font-size="16.3" text-anchor="middle">Conductance / pS</text>
<text transform="translate(14.7 358.8) rotate(-90)" font-size="16.45" text-anchor="middle">Counts</text>
</g>
<g id="bars-c" fill="#c2c2c2" stroke="#111" stroke-width="1.35">
<rect x="400" y="264" width="5.9" height="209.3"/>
<rect x="408.1" y="325" width="5.9" height="148.3"/>
<rect x="416.2" y="350.3" width="5.9" height="123"/>
<rect x="424.4" y="397.5" width="5.9" height="75.8"/>
<rect x="432.5" y="427.4" width="5.9" height="45.9"/>
<rect x="440.6" y="429.7" width="5.9" height="43.6"/>
<rect x="448.7" y="435.4" width="5.9" height="37.9"/>
<rect x="456.8" y="457.3" width="5.9" height="16"/>
<rect x="465" y="450.4" width="5.9" height="22.9"/>
<rect x="473.1" y="455.6" width="5.9" height="17.7"/>
<rect x="481.2" y="462.5" width="5.9" height="10.8"/>
<rect x="489.3" y="465.3" width="5.9" height="8"/>
<rect x="497.4" y="463" width="5.9" height="10.3"/>
<rect x="505.6" y="467.6" width="5.9" height="5.7"/>
<rect x="513.7" y="471.1" width="5.9" height="2.2"/>
<rect x="521.8" y="468.8" width="5.9" height="4.5"/>
<rect x="529.9" y="471.1" width="5.9" height="2.2"/>
<rect x="538" y="471.1" width="5.9" height="2.2"/>
<rect x="546.2" y="468.8" width="5.9" height="4.5"/>
<rect x="554.3" y="468.8" width="5.9" height="4.5"/>
<rect x="562.4" y="472.2" width="5.9" height="1.1"/>
<rect x="570.5" y="472.2" width="5.9" height="1.1"/>
<rect x="578.6" y="472.2" width="5.9" height="1.1"/>
<rect x="603" y="470.6" width="5.9" height="2.7"/>
<rect x="627.4" y="470.6" width="5.9" height="2.7"/>
</g>
<g fill="none" stroke="#2f76b3" stroke-width="1.45" stroke-linejoin="round">
<polyline points="402.2,266.5 403.3,275.4 404.4,283.9 405.5,292.1 406.6,299.9 407.8,307.4 408.9,314.5 410,321.4 411.1,327.9 412.2,334.2 413.3,340.2 414.4,345.9 415.5,351.4 416.7,356.7 417.8,361.7 418.9,366.5 420,371.1 421.1,375.5 422.2,379.8 423.3,383.8 424.4,387.6 425.5,391.3 426.7,394.9 427.8,398.3 428.9,401.5 430,404.6 431.1,407.6 432.2,410.4 433.3,413.1 434.4,415.7 435.6,418.2 436.7,420.6 437.8,422.8 438.9,425 440,427.1 441.1,429.1 442.2,431 443.3,432.8 444.4,434.6 445.6,436.2 446.7,437.8 447.8,439.4 448.9,440.8 450,442.2 451.1,443.6 452.2,444.9 453.3,446.1 454.5,447.3 455.6,448.4 456.7,449.5 457.8,450.5 458.9,451.5 460,452.4 461.1,453.3 462.2,454.2 463.4,455 464.5,455.8 465.6,456.5 466.7,457.3 467.8,458 468.9,458.6 470,459.2 471.1,459.9 472.2,460.4 473.4,461 474.5,461.5 475.6,462 476.7,462.5 477.8,463 478.9,463.4 480,463.9 481.1,464.3 482.3,464.6 483.4,465 484.5,465.4 485.6,465.7 486.7,466 487.8,466.4 488.9,466.7 490,466.9 491.2,467.2 492.3,467.5 493.4,467.7 494.5,468 495.6,468.2 496.7,468.4 497.8,468.6 498.9,468.8 500,469 501.2,469.2 502.3,469.4 503.4,469.6 504.5,469.7 505.6,469.9 506.7,470 507.8,470.2 508.9,470.3 510.1,470.4 511.2,470.6 512.3,470.7 513.4,470.8 514.5,470.9 515.6,471 516.7,471.1 517.8,471.2 518.9,471.3 520.1,471.4 521.2,471.5 522.3,471.5 523.4,471.6 524.5,471.7 525.6,471.7 526.7,471.8 527.8,471.9 529,471.9 530.1,472 531.2,472.1 532.3,472.1 533.4,472.2 534.5,472.2 535.6,472.3 536.7,472.3 537.9,472.3 539,472.4 540.1,472.4 541.2,472.5 542.3,472.5 543.4,472.5 544.5,472.6 545.6,472.6 546.7,472.6 547.9,472.7 549,472.7 550.1,472.7 551.2,472.7 552.3,472.8 553.4,472.8 554.5,472.8 555.6,472.8 556.8,472.8 557.9,472.9 559,472.9 560.1,472.9 561.2,472.9 562.3,472.9 563.4,473 564.5,473 565.6,473 566.8,473 567.9,473 569,473 570.1,473 571.2,473 572.3,473.1 573.4,473.1 574.5,473.1 575.7,473.1 576.8,473.1 577.9,473.1 579,473.1 580.1,473.1"/>
<path d="M615.4 255.8H639.8" stroke-width="1.7"/>
</g>
<g fill="none" stroke="#111" stroke-width="1.4">
<rect x="398.4" y="243.2" width="271.2" height="230.1"/><path d="M398.4 473.3v4M398.4 243.2v4.2M452.6 473.3v4M452.6 243.2v4.2M506.9 473.3v4M506.9 243.2v4.2M561.1 473.3v4M561.1 243.2v4.2M615.4 473.3v4M615.4 243.2v4.2M669.6 473.3v4M669.6 243.2v4.2M425.5 473.3v2.4M425.5 243.2v2.6M479.8 473.3v2.4M479.8 243.2v2.6M534 473.3v2.4M534 243.2v2.6M588.2 473.3v2.4M588.2 243.2v2.6M642.5 473.3v2.4M642.5 243.2v2.6M398.4 473.3h-4M669.6 473.3h-4M398.4 415.8h-4M669.6 415.8h-4M398.4 358.2h-4M669.6 358.2h-4M398.4 300.7h-4M669.6 300.7h-4M398.4 243.2h-4M669.6 243.2h-4M398.4 444.5h-2.4M669.6 444.5h-2.4M398.4 387h-2.4M669.6 387h-2.4M398.4 329.5h-2.4M669.6 329.5h-2.4M398.4 272h-2.4M669.6 272h-2.4"/>
</g>
<g font-family='"Liberation Sans", Arial, Helvetica, sans-serif' fill="#111" font-size="12" stroke="#111" stroke-width=".25">
<text x="391.2" y="477.1" text-anchor="end">0</text>
<text x="391.2" y="419.6" text-anchor="end">50</text>
<text x="391.2" y="362.1" text-anchor="end">100</text>
<text x="391.2" y="304.5" text-anchor="end">150</text>
<text x="391.2" y="247" text-anchor="end">200</text>
<text x="398.4" y="492.4" text-anchor="middle">0</text>
<text x="452.6" y="492.4" text-anchor="middle">1000</text>
<text x="506.9" y="492.4" text-anchor="middle">2000</text>
<text x="561.1" y="492.4" text-anchor="middle">3000</text>
<text x="615.4" y="492.4" text-anchor="middle">4000</text>
<text x="669.6" y="492.4" text-anchor="middle">5000</text>
<text x="647.2" y="260">Fit</text>
<text x="534" y="513.3" font-size="16.45" text-anchor="middle">Dwell time / ms</text>
<text transform="translate(356.3 358.4) rotate(-90)" font-size="16.45" text-anchor="middle">Counts</text>
</g>
</svg>
</body>
</html>
